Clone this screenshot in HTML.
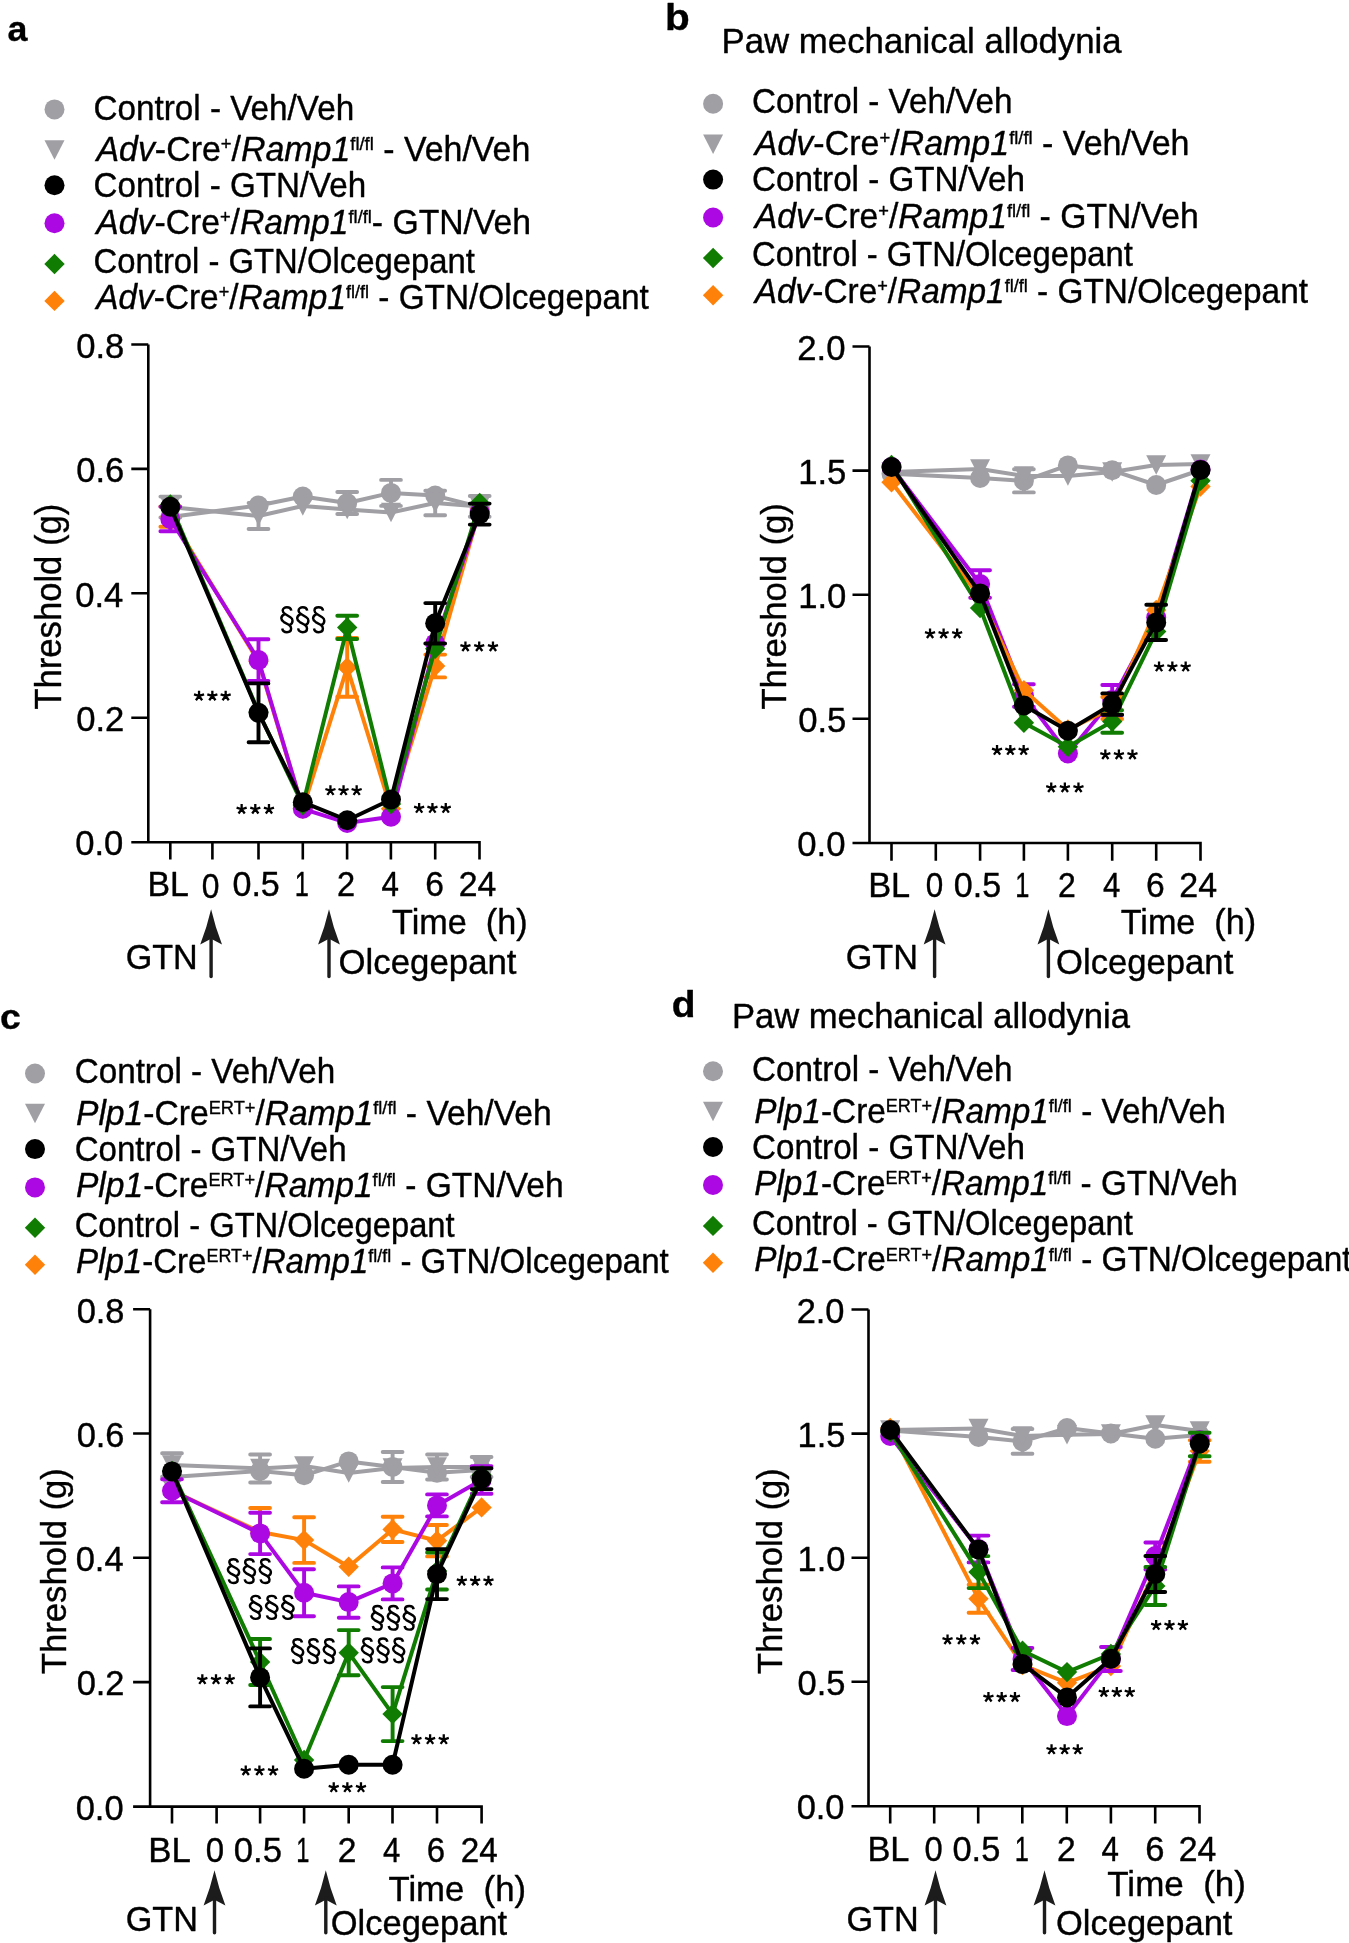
<!DOCTYPE html>
<html><head><meta charset="utf-8"><title>Figure</title><style>html,body{margin:0;padding:0;background:#fff;overflow:hidden}</style></head>
<body>
<svg width="1349" height="1943" viewBox="0 0 1349 1943" font-family='"Liberation Sans", sans-serif' style="display:block;will-change:transform">
<rect width="1349" height="1943" fill="#fff"/>
<path d="M148.30,344.50V842.20M131.30,344.50H148.30M131.30,468.90H148.30M131.30,593.30H148.30M131.30,717.70H148.30M131.30,842.20H480.80M170.30,842.20V859.50M212.40,842.20V859.50M258.50,842.20V859.50M302.80,842.20V859.50M347.10,842.20V859.50M390.90,842.20V859.50M435.20,842.20V859.50M479.50,842.20V859.50" stroke="#000" stroke-width="2.6" fill="none" stroke-linecap="butt"/>
<path d="M211.10,909.30Q215.15,926.90 222.00,944.50L211.10,938.70L200.20,944.50Q207.05,926.90 211.10,909.30Z" fill="#1c1c1c"/>
<path d="M211.10,936.70V976.50" stroke="#1c1c1c" stroke-width="3.4" stroke-linecap="round"/>
<path d="M329.00,909.30Q333.05,926.90 339.90,944.50L329.00,938.70L318.10,944.50Q324.95,926.90 329.00,909.30Z" fill="#1c1c1c"/>
<path d="M329.00,936.70V976.50" stroke="#1c1c1c" stroke-width="3.4" stroke-linecap="round"/>
<path d="M347.20,503.00V492.00M337.30,492.00H357.10M347.20,503.00V514.00M337.30,514.00H357.10" stroke="#A09FA4" stroke-width="3.9" fill="none" stroke-linecap="round"/>
<path d="M391.00,492.90V479.90M381.10,479.90H400.90M391.00,492.90V505.90M381.10,505.90H400.90" stroke="#A09FA4" stroke-width="3.9" fill="none" stroke-linecap="round"/>
<polyline points="170.30,517.00 258.50,505.50 302.80,496.50 347.20,503.00 391.00,492.90 435.20,495.60 479.70,507.00" stroke="#A09FA4" stroke-width="4.0" fill="none" stroke-linejoin="round" stroke-linecap="round"/>
<circle cx="170.30" cy="517.00" r="10.0" fill="#A09FA4"/>
<circle cx="258.50" cy="505.50" r="10.0" fill="#A09FA4"/>
<circle cx="302.80" cy="496.50" r="10.0" fill="#A09FA4"/>
<circle cx="347.20" cy="503.00" r="10.0" fill="#A09FA4"/>
<circle cx="391.00" cy="492.90" r="10.0" fill="#A09FA4"/>
<circle cx="435.20" cy="495.60" r="10.0" fill="#A09FA4"/>
<circle cx="479.70" cy="507.00" r="10.0" fill="#A09FA4"/>
<path d="M170.30,507.00V496.60M160.40,496.60H180.20M170.30,507.00V517.40M160.40,517.40H180.20" stroke="#A09FA4" stroke-width="3.9" fill="none" stroke-linecap="round"/>
<path d="M258.50,516.00V503.00M248.60,503.00H268.40M258.50,516.00V529.00M248.60,529.00H268.40" stroke="#A09FA4" stroke-width="3.9" fill="none" stroke-linecap="round"/>
<path d="M435.20,503.00V490.80M425.30,490.80H445.10M435.20,503.00V515.20M425.30,515.20H445.10" stroke="#A09FA4" stroke-width="3.9" fill="none" stroke-linecap="round"/>
<path d="M479.70,506.40V496.00M469.80,496.00H489.60M479.70,506.40V516.80M469.80,516.80H489.60" stroke="#A09FA4" stroke-width="3.9" fill="none" stroke-linecap="round"/>
<polyline points="170.30,507.00 258.50,516.00 302.80,506.00 347.20,509.50 391.00,512.50 435.20,503.00 479.70,506.40" stroke="#A09FA4" stroke-width="4.0" fill="none" stroke-linejoin="round" stroke-linecap="round"/>
<polygon points="160.30,497.25 180.30,497.25 170.30,516.75" fill="#A09FA4"/>
<polygon points="248.50,506.25 268.50,506.25 258.50,525.75" fill="#A09FA4"/>
<polygon points="292.80,496.25 312.80,496.25 302.80,515.75" fill="#A09FA4"/>
<polygon points="337.20,499.75 357.20,499.75 347.20,519.25" fill="#A09FA4"/>
<polygon points="381.00,502.75 401.00,502.75 391.00,522.25" fill="#A09FA4"/>
<polygon points="425.20,493.25 445.20,493.25 435.20,512.75" fill="#A09FA4"/>
<polygon points="469.70,496.65 489.70,496.65 479.70,516.15" fill="#A09FA4"/>
<path d="M170.30,516.60V506.40M160.40,506.40H180.20M170.30,516.60V526.80M160.40,526.80H180.20" stroke="#FE820A" stroke-width="3.9" fill="none" stroke-linecap="round"/>
<path d="M347.20,667.40V638.00M337.30,638.00H357.10M347.20,667.40V696.80M337.30,696.80H357.10" stroke="#FE820A" stroke-width="3.9" fill="none" stroke-linecap="round"/>
<path d="M435.20,666.00V654.60M425.30,654.60H445.10M435.20,666.00V677.40M425.30,677.40H445.10" stroke="#FE820A" stroke-width="3.9" fill="none" stroke-linecap="round"/>
<polyline points="170.30,516.60 258.50,661.50 302.80,808.80 347.20,667.40 391.00,808.80 435.20,666.00 479.70,509.00" stroke="#FE820A" stroke-width="4.0" fill="none" stroke-linejoin="round" stroke-linecap="round"/>
<polygon points="170.30,506.40 180.50,516.60 170.30,526.80 160.10,516.60" fill="#FE820A"/>
<polygon points="258.50,651.30 268.70,661.50 258.50,671.70 248.30,661.50" fill="#FE820A"/>
<polygon points="302.80,798.60 313.00,808.80 302.80,819.00 292.60,808.80" fill="#FE820A"/>
<polygon points="347.20,657.20 357.40,667.40 347.20,677.60 337.00,667.40" fill="#FE820A"/>
<polygon points="391.00,798.60 401.20,808.80 391.00,819.00 380.80,808.80" fill="#FE820A"/>
<polygon points="435.20,655.80 445.40,666.00 435.20,676.20 425.00,666.00" fill="#FE820A"/>
<polygon points="479.70,498.80 489.90,509.00 479.70,519.20 469.50,509.00" fill="#FE820A"/>
<path d="M170.30,519.00V506.70M160.40,506.70H180.20M170.30,519.00V531.30M160.40,531.30H180.20" stroke="#AC08E3" stroke-width="3.9" fill="none" stroke-linecap="round"/>
<path d="M258.50,660.10V639.20M248.60,639.20H268.40M258.50,660.10V681.00M248.60,681.00H268.40" stroke="#AC08E3" stroke-width="3.9" fill="none" stroke-linecap="round"/>
<polyline points="170.30,519.00 258.50,660.10 302.80,808.80 347.20,822.90 391.00,816.80 435.20,643.40 479.70,512.00" stroke="#AC08E3" stroke-width="4.0" fill="none" stroke-linejoin="round" stroke-linecap="round"/>
<circle cx="170.30" cy="519.00" r="10.0" fill="#AC08E3"/>
<circle cx="258.50" cy="660.10" r="10.0" fill="#AC08E3"/>
<circle cx="302.80" cy="808.80" r="10.0" fill="#AC08E3"/>
<circle cx="347.20" cy="822.90" r="10.0" fill="#AC08E3"/>
<circle cx="391.00" cy="816.80" r="10.0" fill="#AC08E3"/>
<circle cx="435.20" cy="643.40" r="10.0" fill="#AC08E3"/>
<circle cx="479.70" cy="512.00" r="10.0" fill="#AC08E3"/>
<path d="M347.20,627.40V615.80M337.30,615.80H357.10M347.20,627.40V639.00M337.30,639.00H357.10" stroke="#107C02" stroke-width="3.9" fill="none" stroke-linecap="round"/>
<polyline points="170.30,504.50 258.50,712.00 302.80,805.00 347.20,627.40 391.00,804.00 435.20,648.70 479.70,503.00" stroke="#107C02" stroke-width="4.0" fill="none" stroke-linejoin="round" stroke-linecap="round"/>
<polygon points="170.30,494.30 180.50,504.50 170.30,514.70 160.10,504.50" fill="#107C02"/>
<polygon points="258.50,701.80 268.70,712.00 258.50,722.20 248.30,712.00" fill="#107C02"/>
<polygon points="302.80,794.80 313.00,805.00 302.80,815.20 292.60,805.00" fill="#107C02"/>
<polygon points="347.20,617.20 357.40,627.40 347.20,637.60 337.00,627.40" fill="#107C02"/>
<polygon points="391.00,793.80 401.20,804.00 391.00,814.20 380.80,804.00" fill="#107C02"/>
<polygon points="435.20,638.50 445.40,648.70 435.20,658.90 425.00,648.70" fill="#107C02"/>
<polygon points="479.70,492.80 489.90,503.00 479.70,513.20 469.50,503.00" fill="#107C02"/>
<path d="M258.50,712.80V683.40M248.60,683.40H268.40M258.50,712.80V742.20M248.60,742.20H268.40" stroke="#000000" stroke-width="3.9" fill="none" stroke-linecap="round"/>
<path d="M435.20,623.30V603.10M425.30,603.10H445.10M435.20,623.30V643.50M425.30,643.50H445.10" stroke="#000000" stroke-width="3.9" fill="none" stroke-linecap="round"/>
<path d="M479.70,514.10V503.60M469.80,503.60H489.60M479.70,514.10V524.60M469.80,524.60H489.60" stroke="#000000" stroke-width="3.9" fill="none" stroke-linecap="round"/>
<polyline points="170.30,506.80 258.50,712.80 302.80,802.20 347.20,820.20 391.00,799.50 435.20,623.30 479.70,514.10" stroke="#000000" stroke-width="4.0" fill="none" stroke-linejoin="round" stroke-linecap="round"/>
<circle cx="170.30" cy="506.80" r="10.0" fill="#000000"/>
<circle cx="258.50" cy="712.80" r="10.0" fill="#000000"/>
<circle cx="302.80" cy="802.20" r="10.0" fill="#000000"/>
<circle cx="347.20" cy="820.20" r="10.0" fill="#000000"/>
<circle cx="391.00" cy="799.50" r="10.0" fill="#000000"/>
<circle cx="435.20" cy="623.30" r="10.0" fill="#000000"/>
<circle cx="479.70" cy="514.10" r="10.0" fill="#000000"/>
<path d="M869.50,346.50V843.00M852.50,346.50H869.50M852.50,470.60H869.50M852.50,594.70H869.50M852.50,718.80H869.50M852.50,843.00H1201.80M891.50,843.00V860.70M935.80,843.00V860.70M980.10,843.00V860.70M1023.90,843.00V860.70M1067.90,843.00V860.70M1112.20,843.00V860.70M1156.20,843.00V860.70M1200.50,843.00V860.70" stroke="#000" stroke-width="2.6" fill="none" stroke-linecap="butt"/>
<path d="M934.60,909.30Q938.65,926.90 945.50,944.50L934.60,938.70L923.70,944.50Q930.55,926.90 934.60,909.30Z" fill="#1c1c1c"/>
<path d="M934.60,936.70V976.50" stroke="#1c1c1c" stroke-width="3.4" stroke-linecap="round"/>
<path d="M1048.40,909.30Q1052.45,926.90 1059.30,944.50L1048.40,938.70L1037.50,944.50Q1044.35,926.90 1048.40,909.30Z" fill="#1c1c1c"/>
<path d="M1048.40,936.70V976.50" stroke="#1c1c1c" stroke-width="3.4" stroke-linecap="round"/>
<path d="M1023.90,480.80V469.20M1014.00,469.20H1033.80M1023.90,480.80V492.40M1014.00,492.40H1033.80" stroke="#A09FA4" stroke-width="3.9" fill="none" stroke-linecap="round"/>
<polyline points="891.50,473.80 980.10,478.00 1023.90,480.80 1067.90,465.40 1112.20,470.30 1156.20,485.00 1200.50,470.00" stroke="#A09FA4" stroke-width="4.0" fill="none" stroke-linejoin="round" stroke-linecap="round"/>
<circle cx="891.50" cy="473.80" r="10.0" fill="#A09FA4"/>
<circle cx="980.10" cy="478.00" r="10.0" fill="#A09FA4"/>
<circle cx="1023.90" cy="480.80" r="10.0" fill="#A09FA4"/>
<circle cx="1067.90" cy="465.40" r="10.0" fill="#A09FA4"/>
<circle cx="1112.20" cy="470.30" r="10.0" fill="#A09FA4"/>
<circle cx="1156.20" cy="485.00" r="10.0" fill="#A09FA4"/>
<circle cx="1200.50" cy="470.00" r="10.0" fill="#A09FA4"/>
<polyline points="891.50,472.00 980.10,469.00 1023.90,476.00 1067.90,476.00 1112.20,472.00 1156.20,465.00 1200.50,464.00" stroke="#A09FA4" stroke-width="4.0" fill="none" stroke-linejoin="round" stroke-linecap="round"/>
<polygon points="881.50,462.25 901.50,462.25 891.50,481.75" fill="#A09FA4"/>
<polygon points="970.10,459.25 990.10,459.25 980.10,478.75" fill="#A09FA4"/>
<polygon points="1013.90,466.25 1033.90,466.25 1023.90,485.75" fill="#A09FA4"/>
<polygon points="1057.90,466.25 1077.90,466.25 1067.90,485.75" fill="#A09FA4"/>
<polygon points="1102.20,462.25 1122.20,462.25 1112.20,481.75" fill="#A09FA4"/>
<polygon points="1146.20,455.25 1166.20,455.25 1156.20,474.75" fill="#A09FA4"/>
<polygon points="1190.50,454.25 1210.50,454.25 1200.50,473.75" fill="#A09FA4"/>
<path d="M980.10,584.00V570.30M970.20,570.30H990.00M980.10,584.00V597.70M970.20,597.70H990.00" stroke="#AC08E3" stroke-width="3.9" fill="none" stroke-linecap="round"/>
<path d="M1023.90,695.50V684.30M1014.00,684.30H1033.80M1023.90,695.50V706.70M1014.00,706.70H1033.80" stroke="#AC08E3" stroke-width="3.9" fill="none" stroke-linecap="round"/>
<path d="M1112.20,700.00V685.00M1102.30,685.00H1122.10M1112.20,700.00V715.00M1102.30,715.00H1122.10" stroke="#AC08E3" stroke-width="3.9" fill="none" stroke-linecap="round"/>
<polyline points="891.50,467.00 980.10,584.00 1023.90,695.50 1067.90,753.50 1112.20,700.00 1156.20,617.50 1200.50,469.50" stroke="#AC08E3" stroke-width="4.0" fill="none" stroke-linejoin="round" stroke-linecap="round"/>
<circle cx="891.50" cy="467.00" r="10.0" fill="#AC08E3"/>
<circle cx="980.10" cy="584.00" r="10.0" fill="#AC08E3"/>
<circle cx="1023.90" cy="695.50" r="10.0" fill="#AC08E3"/>
<circle cx="1067.90" cy="753.50" r="10.0" fill="#AC08E3"/>
<circle cx="1112.20" cy="700.00" r="10.0" fill="#AC08E3"/>
<circle cx="1156.20" cy="617.50" r="10.0" fill="#AC08E3"/>
<circle cx="1200.50" cy="469.50" r="10.0" fill="#AC08E3"/>
<path d="M1112.20,708.00V697.00M1102.30,697.00H1122.10M1112.20,708.00V719.00M1102.30,719.00H1122.10" stroke="#FE820A" stroke-width="3.9" fill="none" stroke-linecap="round"/>
<polyline points="891.50,482.30 980.10,597.00 1023.90,690.20 1067.90,729.50 1112.20,708.00 1156.20,610.00 1200.50,486.50" stroke="#FE820A" stroke-width="4.0" fill="none" stroke-linejoin="round" stroke-linecap="round"/>
<polygon points="891.50,472.10 901.70,482.30 891.50,492.50 881.30,482.30" fill="#FE820A"/>
<polygon points="980.10,586.80 990.30,597.00 980.10,607.20 969.90,597.00" fill="#FE820A"/>
<polygon points="1023.90,680.00 1034.10,690.20 1023.90,700.40 1013.70,690.20" fill="#FE820A"/>
<polygon points="1067.90,719.30 1078.10,729.50 1067.90,739.70 1057.70,729.50" fill="#FE820A"/>
<polygon points="1112.20,697.80 1122.40,708.00 1112.20,718.20 1102.00,708.00" fill="#FE820A"/>
<polygon points="1156.20,599.80 1166.40,610.00 1156.20,620.20 1146.00,610.00" fill="#FE820A"/>
<polygon points="1200.50,476.30 1210.70,486.50 1200.50,496.70 1190.30,486.50" fill="#FE820A"/>
<path d="M1112.20,721.50V710.20M1102.30,710.20H1122.10M1112.20,721.50V732.80M1102.30,732.80H1122.10" stroke="#107C02" stroke-width="3.9" fill="none" stroke-linecap="round"/>
<polyline points="891.50,465.00 980.10,608.00 1023.90,722.80 1067.90,746.80 1112.20,721.50 1156.20,631.50 1200.50,480.80" stroke="#107C02" stroke-width="4.0" fill="none" stroke-linejoin="round" stroke-linecap="round"/>
<polygon points="891.50,454.80 901.70,465.00 891.50,475.20 881.30,465.00" fill="#107C02"/>
<polygon points="980.10,597.80 990.30,608.00 980.10,618.20 969.90,608.00" fill="#107C02"/>
<polygon points="1023.90,712.60 1034.10,722.80 1023.90,733.00 1013.70,722.80" fill="#107C02"/>
<polygon points="1067.90,736.60 1078.10,746.80 1067.90,757.00 1057.70,746.80" fill="#107C02"/>
<polygon points="1112.20,711.30 1122.40,721.50 1112.20,731.70 1102.00,721.50" fill="#107C02"/>
<polygon points="1156.20,621.30 1166.40,631.50 1156.20,641.70 1146.00,631.50" fill="#107C02"/>
<polygon points="1200.50,470.60 1210.70,480.80 1200.50,491.00 1190.30,480.80" fill="#107C02"/>
<path d="M1112.20,704.10V693.40M1102.30,693.40H1122.10M1112.20,704.10V714.80M1102.30,714.80H1122.10" stroke="#000000" stroke-width="3.9" fill="none" stroke-linecap="round"/>
<path d="M1156.20,622.40V604.80M1146.30,604.80H1166.10M1156.20,622.40V640.00M1146.30,640.00H1166.10" stroke="#000000" stroke-width="3.9" fill="none" stroke-linecap="round"/>
<polyline points="891.50,467.00 980.10,593.40 1023.90,705.50 1067.90,730.80 1112.20,704.10 1156.20,622.40 1200.50,469.90" stroke="#000000" stroke-width="4.0" fill="none" stroke-linejoin="round" stroke-linecap="round"/>
<circle cx="891.50" cy="467.00" r="10.0" fill="#000000"/>
<circle cx="980.10" cy="593.40" r="10.0" fill="#000000"/>
<circle cx="1023.90" cy="705.50" r="10.0" fill="#000000"/>
<circle cx="1067.90" cy="730.80" r="10.0" fill="#000000"/>
<circle cx="1112.20" cy="704.10" r="10.0" fill="#000000"/>
<circle cx="1156.20" cy="622.40" r="10.0" fill="#000000"/>
<circle cx="1200.50" cy="469.90" r="10.0" fill="#000000"/>
<path d="M150.10,1309.20V1806.60M133.10,1309.20H150.10M133.10,1433.50H150.10M133.10,1557.80H150.10M133.10,1682.10H150.10M133.10,1806.60H482.90M172.00,1806.60V1823.40M216.60,1806.60V1823.40M260.10,1806.60V1823.40M304.10,1806.60V1823.40M348.70,1806.60V1823.40M392.50,1806.60V1823.40M437.00,1806.60V1823.40M481.60,1806.60V1823.40" stroke="#000" stroke-width="2.6" fill="none" stroke-linecap="butt"/>
<path d="M214.50,1870.30Q218.55,1887.90 225.40,1905.50L214.50,1899.70L203.60,1905.50Q210.45,1887.90 214.50,1870.30Z" fill="#1c1c1c"/>
<path d="M214.50,1897.70V1932.70" stroke="#1c1c1c" stroke-width="3.4" stroke-linecap="round"/>
<path d="M325.80,1870.30Q329.85,1887.90 336.70,1905.50L325.80,1899.70L314.90,1905.50Q321.75,1887.90 325.80,1870.30Z" fill="#1c1c1c"/>
<path d="M325.80,1897.70V1932.70" stroke="#1c1c1c" stroke-width="3.4" stroke-linecap="round"/>
<path d="M392.60,1467.00V1452.00M382.70,1452.00H402.50M392.60,1467.00V1482.00M382.70,1482.00H402.50" stroke="#A09FA4" stroke-width="3.9" fill="none" stroke-linecap="round"/>
<polyline points="172.00,1477.00 260.10,1471.00 304.10,1475.30 348.70,1461.40 392.60,1467.00 437.00,1472.80 481.60,1470.00" stroke="#A09FA4" stroke-width="4.0" fill="none" stroke-linejoin="round" stroke-linecap="round"/>
<circle cx="172.00" cy="1477.00" r="10.0" fill="#A09FA4"/>
<circle cx="260.10" cy="1471.00" r="10.0" fill="#A09FA4"/>
<circle cx="304.10" cy="1475.30" r="10.0" fill="#A09FA4"/>
<circle cx="348.70" cy="1461.40" r="10.0" fill="#A09FA4"/>
<circle cx="392.60" cy="1467.00" r="10.0" fill="#A09FA4"/>
<circle cx="437.00" cy="1472.80" r="10.0" fill="#A09FA4"/>
<circle cx="481.60" cy="1470.00" r="10.0" fill="#A09FA4"/>
<path d="M172.00,1465.00V1453.20M162.10,1453.20H181.90M172.00,1465.00V1476.80M162.10,1476.80H181.90" stroke="#A09FA4" stroke-width="3.9" fill="none" stroke-linecap="round"/>
<path d="M260.10,1468.50V1454.50M250.20,1454.50H270.00M260.10,1468.50V1482.50M250.20,1482.50H270.00" stroke="#A09FA4" stroke-width="3.9" fill="none" stroke-linecap="round"/>
<path d="M437.00,1467.00V1454.50M427.10,1454.50H446.90M437.00,1467.00V1479.50M427.10,1479.50H446.90" stroke="#A09FA4" stroke-width="3.9" fill="none" stroke-linecap="round"/>
<path d="M481.60,1467.00V1457.00M471.70,1457.00H491.50M481.60,1467.00V1477.00M471.70,1477.00H491.50" stroke="#A09FA4" stroke-width="3.9" fill="none" stroke-linecap="round"/>
<polyline points="172.00,1465.00 260.10,1468.50 304.10,1466.00 348.70,1473.00 392.60,1468.00 437.00,1467.00 481.60,1467.00" stroke="#A09FA4" stroke-width="4.0" fill="none" stroke-linejoin="round" stroke-linecap="round"/>
<polygon points="162.00,1455.25 182.00,1455.25 172.00,1474.75" fill="#A09FA4"/>
<polygon points="250.10,1458.75 270.10,1458.75 260.10,1478.25" fill="#A09FA4"/>
<polygon points="294.10,1456.25 314.10,1456.25 304.10,1475.75" fill="#A09FA4"/>
<polygon points="338.70,1463.25 358.70,1463.25 348.70,1482.75" fill="#A09FA4"/>
<polygon points="382.60,1458.25 402.60,1458.25 392.60,1477.75" fill="#A09FA4"/>
<polygon points="427.00,1457.25 447.00,1457.25 437.00,1476.75" fill="#A09FA4"/>
<polygon points="471.60,1457.25 491.60,1457.25 481.60,1476.75" fill="#A09FA4"/>
<path d="M260.10,1532.00V1508.00M250.20,1508.00H270.00" stroke="#FE820A" stroke-width="3.9" fill="none" stroke-linecap="round"/>
<path d="M304.10,1540.10V1517.30M294.20,1517.30H314.00M304.10,1540.10V1562.90M294.20,1562.90H314.00" stroke="#FE820A" stroke-width="3.9" fill="none" stroke-linecap="round"/>
<path d="M392.60,1529.40V1516.80M382.70,1516.80H402.50M392.60,1529.40V1542.00M382.70,1542.00H402.50" stroke="#FE820A" stroke-width="3.9" fill="none" stroke-linecap="round"/>
<path d="M437.00,1540.70V1525.00M427.10,1525.00H446.90M437.00,1540.70V1556.40M427.10,1556.40H446.90" stroke="#FE820A" stroke-width="3.9" fill="none" stroke-linecap="round"/>
<polyline points="172.00,1490.70 260.10,1532.00 304.10,1540.10 348.70,1566.80 392.60,1529.40 437.00,1540.70 481.60,1507.40" stroke="#FE820A" stroke-width="4.0" fill="none" stroke-linejoin="round" stroke-linecap="round"/>
<polygon points="172.00,1480.50 182.20,1490.70 172.00,1500.90 161.80,1490.70" fill="#FE820A"/>
<polygon points="260.10,1521.80 270.30,1532.00 260.10,1542.20 249.90,1532.00" fill="#FE820A"/>
<polygon points="304.10,1529.90 314.30,1540.10 304.10,1550.30 293.90,1540.10" fill="#FE820A"/>
<polygon points="348.70,1556.60 358.90,1566.80 348.70,1577.00 338.50,1566.80" fill="#FE820A"/>
<polygon points="392.60,1519.20 402.80,1529.40 392.60,1539.60 382.40,1529.40" fill="#FE820A"/>
<polygon points="437.00,1530.50 447.20,1540.70 437.00,1550.90 426.80,1540.70" fill="#FE820A"/>
<polygon points="481.60,1497.20 491.80,1507.40 481.60,1517.60 471.40,1507.40" fill="#FE820A"/>
<path d="M172.00,1490.70V1479.20M162.10,1479.20H181.90M172.00,1490.70V1502.20M162.10,1502.20H181.90" stroke="#AC08E3" stroke-width="3.9" fill="none" stroke-linecap="round"/>
<path d="M260.10,1533.40V1512.70M250.20,1512.70H270.00M260.10,1533.40V1554.10M250.20,1554.10H270.00" stroke="#AC08E3" stroke-width="3.9" fill="none" stroke-linecap="round"/>
<path d="M304.10,1592.80V1569.30M294.20,1569.30H314.00M304.10,1592.80V1616.30M294.20,1616.30H314.00" stroke="#AC08E3" stroke-width="3.9" fill="none" stroke-linecap="round"/>
<path d="M348.70,1602.10V1586.40M338.80,1586.40H358.60M348.70,1602.10V1617.80M338.80,1617.80H358.60" stroke="#AC08E3" stroke-width="3.9" fill="none" stroke-linecap="round"/>
<path d="M392.60,1583.40V1567.40M382.70,1567.40H402.50M392.60,1583.40V1599.40M382.70,1599.40H402.50" stroke="#AC08E3" stroke-width="3.9" fill="none" stroke-linecap="round"/>
<path d="M437.00,1505.40V1494.40M427.10,1494.40H446.90M437.00,1505.40V1516.40M427.10,1516.40H446.90" stroke="#AC08E3" stroke-width="3.9" fill="none" stroke-linecap="round"/>
<path d="M481.60,1480.00V1466.30M471.70,1466.30H491.50M481.60,1480.00V1493.70M471.70,1493.70H491.50" stroke="#AC08E3" stroke-width="3.9" fill="none" stroke-linecap="round"/>
<polyline points="172.00,1490.70 260.10,1533.40 304.10,1592.80 348.70,1602.10 392.60,1583.40 437.00,1505.40 481.60,1480.00" stroke="#AC08E3" stroke-width="4.0" fill="none" stroke-linejoin="round" stroke-linecap="round"/>
<circle cx="172.00" cy="1490.70" r="10.0" fill="#AC08E3"/>
<circle cx="260.10" cy="1533.40" r="10.0" fill="#AC08E3"/>
<circle cx="304.10" cy="1592.80" r="10.0" fill="#AC08E3"/>
<circle cx="348.70" cy="1602.10" r="10.0" fill="#AC08E3"/>
<circle cx="392.60" cy="1583.40" r="10.0" fill="#AC08E3"/>
<circle cx="437.00" cy="1505.40" r="10.0" fill="#AC08E3"/>
<circle cx="481.60" cy="1480.00" r="10.0" fill="#AC08E3"/>
<path d="M260.10,1662.00V1639.00M250.20,1639.00H270.00M260.10,1662.00V1685.00M250.20,1685.00H270.00" stroke="#107C02" stroke-width="3.9" fill="none" stroke-linecap="round"/>
<path d="M348.70,1652.70V1630.10M338.80,1630.10H358.60M348.70,1652.70V1675.30M338.80,1675.30H358.60" stroke="#107C02" stroke-width="3.9" fill="none" stroke-linecap="round"/>
<path d="M392.60,1714.10V1687.10M382.70,1687.10H402.50M392.60,1714.10V1741.10M382.70,1741.10H402.50" stroke="#107C02" stroke-width="3.9" fill="none" stroke-linecap="round"/>
<path d="M437.00,1571.00V1552.50M427.10,1552.50H446.90M437.00,1571.00V1589.50M427.10,1589.50H446.90" stroke="#107C02" stroke-width="3.9" fill="none" stroke-linecap="round"/>
<polyline points="172.00,1471.00 260.10,1662.00 304.10,1760.00 348.70,1652.70 392.60,1714.10 437.00,1571.00 481.60,1475.00" stroke="#107C02" stroke-width="4.0" fill="none" stroke-linejoin="round" stroke-linecap="round"/>
<polygon points="172.00,1460.80 182.20,1471.00 172.00,1481.20 161.80,1471.00" fill="#107C02"/>
<polygon points="260.10,1651.80 270.30,1662.00 260.10,1672.20 249.90,1662.00" fill="#107C02"/>
<polygon points="304.10,1749.80 314.30,1760.00 304.10,1770.20 293.90,1760.00" fill="#107C02"/>
<polygon points="348.70,1642.50 358.90,1652.70 348.70,1662.90 338.50,1652.70" fill="#107C02"/>
<polygon points="392.60,1703.90 402.80,1714.10 392.60,1724.30 382.40,1714.10" fill="#107C02"/>
<polygon points="437.00,1560.80 447.20,1571.00 437.00,1581.20 426.80,1571.00" fill="#107C02"/>
<polygon points="481.60,1464.80 491.80,1475.00 481.60,1485.20 471.40,1475.00" fill="#107C02"/>
<path d="M260.10,1677.40V1648.40M250.20,1648.40H270.00M260.10,1677.40V1706.40M250.20,1706.40H270.00" stroke="#000000" stroke-width="3.9" fill="none" stroke-linecap="round"/>
<path d="M437.00,1574.10V1549.10M427.10,1549.10H446.90M437.00,1574.10V1599.10M427.10,1599.10H446.90" stroke="#000000" stroke-width="3.9" fill="none" stroke-linecap="round"/>
<path d="M481.60,1478.70V1468.30M471.70,1468.30H491.50M481.60,1478.70V1489.10M471.70,1489.10H491.50" stroke="#000000" stroke-width="3.9" fill="none" stroke-linecap="round"/>
<polyline points="172.00,1471.40 260.10,1677.40 304.10,1768.80 348.70,1764.80 392.60,1764.80 437.00,1574.10 481.60,1478.70" stroke="#000000" stroke-width="4.0" fill="none" stroke-linejoin="round" stroke-linecap="round"/>
<circle cx="172.00" cy="1471.40" r="10.0" fill="#000000"/>
<circle cx="260.10" cy="1677.40" r="10.0" fill="#000000"/>
<circle cx="304.10" cy="1768.80" r="10.0" fill="#000000"/>
<circle cx="348.70" cy="1764.80" r="10.0" fill="#000000"/>
<circle cx="392.60" cy="1764.80" r="10.0" fill="#000000"/>
<circle cx="437.00" cy="1574.10" r="10.0" fill="#000000"/>
<circle cx="481.60" cy="1478.70" r="10.0" fill="#000000"/>
<path d="M868.50,1309.50V1806.30M851.50,1309.50H868.50M851.50,1433.60H868.50M851.50,1557.70H868.50M851.50,1681.80H868.50M851.50,1806.30H1200.80M890.20,1806.30V1823.40M934.20,1806.30V1823.40M978.20,1806.30V1823.40M1022.30,1806.30V1823.40M1066.80,1806.30V1823.40M1110.90,1806.30V1823.40M1155.20,1806.30V1823.40M1199.50,1806.30V1823.40" stroke="#000" stroke-width="2.6" fill="none" stroke-linecap="butt"/>
<path d="M935.50,1870.30Q939.55,1887.90 946.40,1905.50L935.50,1899.70L924.60,1905.50Q931.45,1887.90 935.50,1870.30Z" fill="#1c1c1c"/>
<path d="M935.50,1897.70V1932.70" stroke="#1c1c1c" stroke-width="3.4" stroke-linecap="round"/>
<path d="M1044.50,1870.30Q1048.55,1887.90 1055.40,1905.50L1044.50,1899.70L1033.60,1905.50Q1040.45,1887.90 1044.50,1870.30Z" fill="#1c1c1c"/>
<path d="M1044.50,1897.70V1932.70" stroke="#1c1c1c" stroke-width="3.4" stroke-linecap="round"/>
<path d="M1022.50,1441.40V1429.00M1012.60,1429.00H1032.40M1022.50,1441.40V1453.80M1012.60,1453.80H1032.40" stroke="#A09FA4" stroke-width="3.9" fill="none" stroke-linecap="round"/>
<polyline points="890.20,1430.50 978.50,1437.00 1022.50,1441.40 1067.00,1428.10 1110.90,1433.50 1155.30,1438.80 1199.70,1435.00" stroke="#A09FA4" stroke-width="4.0" fill="none" stroke-linejoin="round" stroke-linecap="round"/>
<circle cx="890.20" cy="1430.50" r="10.0" fill="#A09FA4"/>
<circle cx="978.50" cy="1437.00" r="10.0" fill="#A09FA4"/>
<circle cx="1022.50" cy="1441.40" r="10.0" fill="#A09FA4"/>
<circle cx="1067.00" cy="1428.10" r="10.0" fill="#A09FA4"/>
<circle cx="1110.90" cy="1433.50" r="10.0" fill="#A09FA4"/>
<circle cx="1155.30" cy="1438.80" r="10.0" fill="#A09FA4"/>
<circle cx="1199.70" cy="1435.00" r="10.0" fill="#A09FA4"/>
<polyline points="890.20,1430.00 978.50,1428.50 1022.50,1436.00 1067.00,1434.80 1110.90,1434.00 1155.30,1425.00 1199.70,1431.00" stroke="#A09FA4" stroke-width="4.0" fill="none" stroke-linejoin="round" stroke-linecap="round"/>
<polygon points="880.20,1420.25 900.20,1420.25 890.20,1439.75" fill="#A09FA4"/>
<polygon points="968.50,1418.75 988.50,1418.75 978.50,1438.25" fill="#A09FA4"/>
<polygon points="1012.50,1426.25 1032.50,1426.25 1022.50,1445.75" fill="#A09FA4"/>
<polygon points="1057.00,1425.05 1077.00,1425.05 1067.00,1444.55" fill="#A09FA4"/>
<polygon points="1100.90,1424.25 1120.90,1424.25 1110.90,1443.75" fill="#A09FA4"/>
<polygon points="1145.30,1415.25 1165.30,1415.25 1155.30,1434.75" fill="#A09FA4"/>
<polygon points="1189.70,1421.25 1209.70,1421.25 1199.70,1440.75" fill="#A09FA4"/>
<path d="M978.50,1598.80V1584.80M968.60,1584.80H988.40M978.50,1598.80V1612.80M968.60,1612.80H988.40" stroke="#FE820A" stroke-width="3.9" fill="none" stroke-linecap="round"/>
<path d="M1199.70,1451.00V1440.20M1189.80,1440.20H1209.60M1199.70,1451.00V1461.80M1189.80,1461.80H1209.60" stroke="#FE820A" stroke-width="3.9" fill="none" stroke-linecap="round"/>
<polyline points="890.20,1428.00 978.50,1598.80 1022.50,1665.00 1067.00,1682.80 1110.90,1666.00 1155.30,1570.00 1199.70,1451.00" stroke="#FE820A" stroke-width="4.0" fill="none" stroke-linejoin="round" stroke-linecap="round"/>
<polygon points="890.20,1417.80 900.40,1428.00 890.20,1438.20 880.00,1428.00" fill="#FE820A"/>
<polygon points="978.50,1588.60 988.70,1598.80 978.50,1609.00 968.30,1598.80" fill="#FE820A"/>
<polygon points="1022.50,1654.80 1032.70,1665.00 1022.50,1675.20 1012.30,1665.00" fill="#FE820A"/>
<polygon points="1067.00,1672.60 1077.20,1682.80 1067.00,1693.00 1056.80,1682.80" fill="#FE820A"/>
<polygon points="1110.90,1655.80 1121.10,1666.00 1110.90,1676.20 1100.70,1666.00" fill="#FE820A"/>
<polygon points="1155.30,1559.80 1165.50,1570.00 1155.30,1580.20 1145.10,1570.00" fill="#FE820A"/>
<polygon points="1199.70,1440.80 1209.90,1451.00 1199.70,1461.20 1189.50,1451.00" fill="#FE820A"/>
<path d="M978.50,1549.00V1535.60M968.60,1535.60H988.40M978.50,1549.00V1562.40M968.60,1562.40H988.40" stroke="#AC08E3" stroke-width="3.9" fill="none" stroke-linecap="round"/>
<path d="M1022.50,1659.00V1648.00M1012.60,1648.00H1032.40M1022.50,1659.00V1670.00M1012.60,1670.00H1032.40" stroke="#AC08E3" stroke-width="3.9" fill="none" stroke-linecap="round"/>
<path d="M1110.90,1659.00V1647.00M1101.00,1647.00H1120.80M1110.90,1659.00V1671.00M1101.00,1671.00H1120.80" stroke="#AC08E3" stroke-width="3.9" fill="none" stroke-linecap="round"/>
<path d="M1155.30,1556.00V1542.50M1145.40,1542.50H1165.20M1155.30,1556.00V1569.50M1145.40,1569.50H1165.20" stroke="#AC08E3" stroke-width="3.9" fill="none" stroke-linecap="round"/>
<polyline points="890.20,1436.00 978.50,1549.00 1022.50,1659.00 1067.00,1716.10 1110.90,1659.00 1155.30,1556.00 1199.70,1440.00" stroke="#AC08E3" stroke-width="4.0" fill="none" stroke-linejoin="round" stroke-linecap="round"/>
<circle cx="890.20" cy="1436.00" r="10.0" fill="#AC08E3"/>
<circle cx="978.50" cy="1549.00" r="10.0" fill="#AC08E3"/>
<circle cx="1022.50" cy="1659.00" r="10.0" fill="#AC08E3"/>
<circle cx="1067.00" cy="1716.10" r="10.0" fill="#AC08E3"/>
<circle cx="1110.90" cy="1659.00" r="10.0" fill="#AC08E3"/>
<circle cx="1155.30" cy="1556.00" r="10.0" fill="#AC08E3"/>
<circle cx="1199.70" cy="1440.00" r="10.0" fill="#AC08E3"/>
<path d="M978.50,1572.10V1556.10M968.60,1556.10H988.40M978.50,1572.10V1588.10M968.60,1588.10H988.40" stroke="#107C02" stroke-width="3.9" fill="none" stroke-linecap="round"/>
<path d="M1155.30,1586.00V1567.00M1145.40,1567.00H1165.20M1155.30,1586.00V1605.00M1145.40,1605.00H1165.20" stroke="#107C02" stroke-width="3.9" fill="none" stroke-linecap="round"/>
<path d="M1199.70,1444.50V1432.80M1189.80,1432.80H1209.60M1199.70,1444.50V1456.20M1189.80,1456.20H1209.60" stroke="#107C02" stroke-width="3.9" fill="none" stroke-linecap="round"/>
<polyline points="890.20,1432.00 978.50,1572.10 1022.50,1650.70 1067.00,1672.10 1110.90,1654.00 1155.30,1586.00 1199.70,1444.50" stroke="#107C02" stroke-width="4.0" fill="none" stroke-linejoin="round" stroke-linecap="round"/>
<polygon points="890.20,1421.80 900.40,1432.00 890.20,1442.20 880.00,1432.00" fill="#107C02"/>
<polygon points="978.50,1561.90 988.70,1572.10 978.50,1582.30 968.30,1572.10" fill="#107C02"/>
<polygon points="1022.50,1640.50 1032.70,1650.70 1022.50,1660.90 1012.30,1650.70" fill="#107C02"/>
<polygon points="1067.00,1661.90 1077.20,1672.10 1067.00,1682.30 1056.80,1672.10" fill="#107C02"/>
<polygon points="1110.90,1643.80 1121.10,1654.00 1110.90,1664.20 1100.70,1654.00" fill="#107C02"/>
<polygon points="1155.30,1575.80 1165.50,1586.00 1155.30,1596.20 1145.10,1586.00" fill="#107C02"/>
<polygon points="1199.70,1434.30 1209.90,1444.50 1199.70,1454.70 1189.50,1444.50" fill="#107C02"/>
<path d="M1155.30,1574.00V1556.00M1145.40,1556.00H1165.20M1155.30,1574.00V1592.00M1145.40,1592.00H1165.20" stroke="#000000" stroke-width="3.9" fill="none" stroke-linecap="round"/>
<polyline points="890.20,1430.00 978.50,1549.40 1022.50,1664.10 1067.00,1697.40 1110.90,1658.70 1155.30,1574.00 1199.70,1443.50" stroke="#000000" stroke-width="4.0" fill="none" stroke-linejoin="round" stroke-linecap="round"/>
<circle cx="890.20" cy="1430.00" r="10.0" fill="#000000"/>
<circle cx="978.50" cy="1549.40" r="10.0" fill="#000000"/>
<circle cx="1022.50" cy="1664.10" r="10.0" fill="#000000"/>
<circle cx="1067.00" cy="1697.40" r="10.0" fill="#000000"/>
<circle cx="1110.90" cy="1658.70" r="10.0" fill="#000000"/>
<circle cx="1155.30" cy="1574.00" r="10.0" fill="#000000"/>
<circle cx="1199.70" cy="1443.50" r="10.0" fill="#000000"/>
<circle cx="54.50" cy="109.40" r="10.0" fill="#A09FA4"/>
<polygon points="44.50,140.25 64.50,140.25 54.50,159.75" fill="#A09FA4"/>
<circle cx="54.50" cy="185.30" r="10.0" fill="#000000"/>
<circle cx="54.50" cy="223.30" r="10.0" fill="#AC08E3"/>
<polygon points="54.50,253.80 64.70,264.00 54.50,274.20 44.30,264.00" fill="#107C02"/>
<polygon points="54.50,290.70 64.70,300.90 54.50,311.10 44.30,300.90" fill="#FE820A"/>
<circle cx="713.10" cy="103.70" r="10.0" fill="#A09FA4"/>
<polygon points="703.10,134.55 723.10,134.55 713.10,154.05" fill="#A09FA4"/>
<circle cx="713.10" cy="179.60" r="10.0" fill="#000000"/>
<circle cx="713.10" cy="217.50" r="10.0" fill="#AC08E3"/>
<polygon points="713.10,247.80 723.30,258.00 713.10,268.20 702.90,258.00" fill="#107C02"/>
<polygon points="713.10,285.00 723.30,295.20 713.10,305.40 702.90,295.20" fill="#FE820A"/>
<circle cx="35.00" cy="1073.50" r="10.0" fill="#A09FA4"/>
<polygon points="25.00,1103.85 45.00,1103.85 35.00,1123.35" fill="#A09FA4"/>
<circle cx="35.00" cy="1149.10" r="10.0" fill="#000000"/>
<circle cx="35.00" cy="1187.40" r="10.0" fill="#AC08E3"/>
<polygon points="35.00,1217.60 45.20,1227.80 35.00,1238.00 24.80,1227.80" fill="#107C02"/>
<polygon points="35.00,1254.50 45.20,1264.70 35.00,1274.90 24.80,1264.70" fill="#FE820A"/>
<circle cx="713.00" cy="1071.30" r="10.0" fill="#A09FA4"/>
<polygon points="703.00,1101.85 723.00,1101.85 713.00,1121.35" fill="#A09FA4"/>
<circle cx="713.00" cy="1147.00" r="10.0" fill="#000000"/>
<circle cx="713.00" cy="1185.00" r="10.0" fill="#AC08E3"/>
<polygon points="713.00,1215.70 723.20,1225.90 713.00,1236.10 702.80,1225.90" fill="#107C02"/>
<polygon points="713.00,1252.60 723.20,1262.80 713.00,1273.00 702.80,1262.80" fill="#FE820A"/>
<path d="M199.04,695.95L199.04,690.65M199.04,695.95L204.08,694.31M199.04,695.95L202.16,700.24M199.04,695.95L195.93,700.24M199.04,695.95L194.00,694.31M212.35,695.95L212.35,690.65M212.35,695.95L217.39,694.31M212.35,695.95L215.47,700.24M212.35,695.95L209.23,700.24M212.35,695.95L207.31,694.31M225.66,695.95L225.66,690.65M225.66,695.95L230.70,694.31M225.66,695.95L228.77,700.24M225.66,695.95L222.54,700.24M225.66,695.95L220.62,694.31M241.64,809.25L241.64,803.95M241.64,809.25L246.68,807.61M241.64,809.25L244.76,813.54M241.64,809.25L238.53,813.54M241.64,809.25L236.60,807.61M255.30,809.25L255.30,803.95M255.30,809.25L260.34,807.61M255.30,809.25L258.42,813.54M255.30,809.25L252.18,813.54M255.30,809.25L250.26,807.61M268.96,809.25L268.96,803.95M268.96,809.25L274.00,807.61M268.96,809.25L272.07,813.54M268.96,809.25L265.84,813.54M268.96,809.25L263.92,807.61M330.44,790.65L330.44,785.35M330.44,790.65L335.48,789.01M330.44,790.65L333.56,794.94M330.44,790.65L327.33,794.94M330.44,790.65L325.40,789.01M343.55,790.65L343.55,785.35M343.55,790.65L348.59,789.01M343.55,790.65L346.67,794.94M343.55,790.65L340.43,794.94M343.55,790.65L338.51,789.01M356.66,790.65L356.66,785.35M356.66,790.65L361.70,789.01M356.66,790.65L359.77,794.94M356.66,790.65L353.54,794.94M356.66,790.65L351.62,789.01M419.14,808.35L419.14,803.05M419.14,808.35L424.18,806.71M419.14,808.35L422.26,812.64M419.14,808.35L416.03,812.64M419.14,808.35L414.10,806.71M432.45,808.35L432.45,803.05M432.45,808.35L437.49,806.71M432.45,808.35L435.57,812.64M432.45,808.35L429.33,812.64M432.45,808.35L427.41,806.71M445.76,808.35L445.76,803.05M445.76,808.35L450.80,806.71M445.76,808.35L448.87,812.64M445.76,808.35L442.64,812.64M445.76,808.35L440.72,806.71M465.44,646.70L465.44,641.40M465.44,646.70L470.48,645.06M465.44,646.70L468.56,650.99M465.44,646.70L462.33,650.99M465.44,646.70L460.40,645.06M479.20,646.70L479.20,641.40M479.20,646.70L484.24,645.06M479.20,646.70L482.32,650.99M479.20,646.70L476.08,650.99M479.20,646.70L474.16,645.06M492.96,646.70L492.96,641.40M492.96,646.70L498.00,645.06M492.96,646.70L496.07,650.99M492.96,646.70L489.84,650.99M492.96,646.70L487.92,645.06M930.04,633.75L930.04,628.45M930.04,633.75L935.08,632.11M930.04,633.75L933.16,638.04M930.04,633.75L926.93,638.04M930.04,633.75L925.00,632.11M943.60,633.75L943.60,628.45M943.60,633.75L948.64,632.11M943.60,633.75L946.72,638.04M943.60,633.75L940.48,638.04M943.60,633.75L938.56,632.11M957.16,633.75L957.16,628.45M957.16,633.75L962.20,632.11M957.16,633.75L960.27,638.04M957.16,633.75L954.04,638.04M957.16,633.75L952.12,632.11M997.04,750.30L997.04,745.00M997.04,750.30L1002.08,748.66M997.04,750.30L1000.16,754.59M997.04,750.30L993.93,754.59M997.04,750.30L992.00,748.66M1010.35,750.30L1010.35,745.00M1010.35,750.30L1015.39,748.66M1010.35,750.30L1013.47,754.59M1010.35,750.30L1007.23,754.59M1010.35,750.30L1005.31,748.66M1023.66,750.30L1023.66,745.00M1023.66,750.30L1028.70,748.66M1023.66,750.30L1026.77,754.59M1023.66,750.30L1020.54,754.59M1023.66,750.30L1018.62,748.66M1051.24,787.75L1051.24,782.45M1051.24,787.75L1056.28,786.11M1051.24,787.75L1054.36,792.04M1051.24,787.75L1048.13,792.04M1051.24,787.75L1046.20,786.11M1064.85,787.75L1064.85,782.45M1064.85,787.75L1069.89,786.11M1064.85,787.75L1067.97,792.04M1064.85,787.75L1061.73,792.04M1064.85,787.75L1059.81,786.11M1078.46,787.75L1078.46,782.45M1078.46,787.75L1083.50,786.11M1078.46,787.75L1081.57,792.04M1078.46,787.75L1075.34,792.04M1078.46,787.75L1073.42,786.11M1105.34,754.75L1105.34,749.45M1105.34,754.75L1110.38,753.11M1105.34,754.75L1108.46,759.04M1105.34,754.75L1102.23,759.04M1105.34,754.75L1100.30,753.11M1118.90,754.75L1118.90,749.45M1118.90,754.75L1123.94,753.11M1118.90,754.75L1122.02,759.04M1118.90,754.75L1115.78,759.04M1118.90,754.75L1113.86,753.11M1132.46,754.75L1132.46,749.45M1132.46,754.75L1137.50,753.11M1132.46,754.75L1135.57,759.04M1132.46,754.75L1129.34,759.04M1132.46,754.75L1127.42,753.11M1159.04,666.90L1159.04,661.60M1159.04,666.90L1164.08,665.26M1159.04,666.90L1162.16,671.19M1159.04,666.90L1155.93,671.19M1159.04,666.90L1154.00,665.26M1172.35,666.90L1172.35,661.60M1172.35,666.90L1177.39,665.26M1172.35,666.90L1175.47,671.19M1172.35,666.90L1169.23,671.19M1172.35,666.90L1167.31,665.26M1185.66,666.90L1185.66,661.60M1185.66,666.90L1190.70,665.26M1185.66,666.90L1188.77,671.19M1185.66,666.90L1182.54,671.19M1185.66,666.90L1180.62,665.26M202.34,1679.55L202.34,1674.25M202.34,1679.55L207.38,1677.91M202.34,1679.55L205.46,1683.84M202.34,1679.55L199.23,1683.84M202.34,1679.55L197.30,1677.91M216.00,1679.55L216.00,1674.25M216.00,1679.55L221.04,1677.91M216.00,1679.55L219.12,1683.84M216.00,1679.55L212.88,1683.84M216.00,1679.55L210.96,1677.91M229.66,1679.55L229.66,1674.25M229.66,1679.55L234.70,1677.91M229.66,1679.55L232.77,1683.84M229.66,1679.55L226.54,1683.84M229.66,1679.55L224.62,1677.91M245.74,1770.75L245.74,1765.45M245.74,1770.75L250.78,1769.11M245.74,1770.75L248.86,1775.04M245.74,1770.75L242.63,1775.04M245.74,1770.75L240.70,1769.11M259.40,1770.75L259.40,1765.45M259.40,1770.75L264.44,1769.11M259.40,1770.75L262.52,1775.04M259.40,1770.75L256.28,1775.04M259.40,1770.75L254.36,1769.11M273.06,1770.75L273.06,1765.45M273.06,1770.75L278.10,1769.11M273.06,1770.75L276.17,1775.04M273.06,1770.75L269.94,1775.04M273.06,1770.75L268.02,1769.11M333.74,1787.60L333.74,1782.30M333.74,1787.60L338.78,1785.96M333.74,1787.60L336.86,1791.89M333.74,1787.60L330.63,1791.89M333.74,1787.60L328.70,1785.96M347.35,1787.60L347.35,1782.30M347.35,1787.60L352.39,1785.96M347.35,1787.60L350.47,1791.89M347.35,1787.60L344.23,1791.89M347.35,1787.60L342.31,1785.96M360.96,1787.60L360.96,1782.30M360.96,1787.60L366.00,1785.96M360.96,1787.60L364.07,1791.89M360.96,1787.60L357.84,1791.89M360.96,1787.60L355.92,1785.96M416.44,1739.60L416.44,1734.30M416.44,1739.60L421.48,1737.96M416.44,1739.60L419.56,1743.89M416.44,1739.60L413.33,1743.89M416.44,1739.60L411.40,1737.96M430.10,1739.60L430.10,1734.30M430.10,1739.60L435.14,1737.96M430.10,1739.60L433.22,1743.89M430.10,1739.60L426.98,1743.89M430.10,1739.60L425.06,1737.96M443.76,1739.60L443.76,1734.30M443.76,1739.60L448.80,1737.96M443.76,1739.60L446.87,1743.89M443.76,1739.60L440.64,1743.89M443.76,1739.60L438.72,1737.96M461.84,1580.95L461.84,1575.65M461.84,1580.95L466.88,1579.31M461.84,1580.95L464.96,1585.24M461.84,1580.95L458.73,1585.24M461.84,1580.95L456.80,1579.31M475.15,1580.95L475.15,1575.65M475.15,1580.95L480.19,1579.31M475.15,1580.95L478.27,1585.24M475.15,1580.95L472.03,1585.24M475.15,1580.95L470.11,1579.31M488.46,1580.95L488.46,1575.65M488.46,1580.95L493.50,1579.31M488.46,1580.95L491.57,1585.24M488.46,1580.95L485.34,1585.24M488.46,1580.95L483.42,1579.31M947.54,1639.75L947.54,1634.45M947.54,1639.75L952.58,1638.11M947.54,1639.75L950.66,1644.04M947.54,1639.75L944.43,1644.04M947.54,1639.75L942.50,1638.11M961.25,1639.75L961.25,1634.45M961.25,1639.75L966.29,1638.11M961.25,1639.75L964.37,1644.04M961.25,1639.75L958.13,1644.04M961.25,1639.75L956.21,1638.11M974.96,1639.75L974.96,1634.45M974.96,1639.75L980.00,1638.11M974.96,1639.75L978.07,1644.04M974.96,1639.75L971.84,1644.04M974.96,1639.75L969.92,1638.11M988.44,1697.25L988.44,1691.95M988.44,1697.25L993.48,1695.61M988.44,1697.25L991.56,1701.54M988.44,1697.25L985.33,1701.54M988.44,1697.25L983.40,1695.61M1001.70,1697.25L1001.70,1691.95M1001.70,1697.25L1006.74,1695.61M1001.70,1697.25L1004.82,1701.54M1001.70,1697.25L998.58,1701.54M1001.70,1697.25L996.66,1695.61M1014.96,1697.25L1014.96,1691.95M1014.96,1697.25L1020.00,1695.61M1014.96,1697.25L1018.07,1701.54M1014.96,1697.25L1011.84,1701.54M1014.96,1697.25L1009.92,1695.61M1051.54,1749.65L1051.54,1744.35M1051.54,1749.65L1056.58,1748.01M1051.54,1749.65L1054.66,1753.94M1051.54,1749.65L1048.43,1753.94M1051.54,1749.65L1046.50,1748.01M1064.65,1749.65L1064.65,1744.35M1064.65,1749.65L1069.69,1748.01M1064.65,1749.65L1067.77,1753.94M1064.65,1749.65L1061.53,1753.94M1064.65,1749.65L1059.61,1748.01M1077.76,1749.65L1077.76,1744.35M1077.76,1749.65L1082.80,1748.01M1077.76,1749.65L1080.87,1753.94M1077.76,1749.65L1074.64,1753.94M1077.76,1749.65L1072.72,1748.01M1103.84,1692.25L1103.84,1686.95M1103.84,1692.25L1108.88,1690.61M1103.84,1692.25L1106.96,1696.54M1103.84,1692.25L1100.73,1696.54M1103.84,1692.25L1098.80,1690.61M1116.80,1692.25L1116.80,1686.95M1116.80,1692.25L1121.84,1690.61M1116.80,1692.25L1119.92,1696.54M1116.80,1692.25L1113.68,1696.54M1116.80,1692.25L1111.76,1690.61M1129.76,1692.25L1129.76,1686.95M1129.76,1692.25L1134.80,1690.61M1129.76,1692.25L1132.87,1696.54M1129.76,1692.25L1126.64,1696.54M1129.76,1692.25L1124.72,1690.61M1156.14,1625.35L1156.14,1620.05M1156.14,1625.35L1161.18,1623.71M1156.14,1625.35L1159.26,1629.64M1156.14,1625.35L1153.03,1629.64M1156.14,1625.35L1151.10,1623.71M1169.50,1625.35L1169.50,1620.05M1169.50,1625.35L1174.54,1623.71M1169.50,1625.35L1172.62,1629.64M1169.50,1625.35L1166.38,1629.64M1169.50,1625.35L1164.46,1623.71M1182.86,1625.35L1182.86,1620.05M1182.86,1625.35L1187.90,1623.71M1182.86,1625.35L1185.97,1629.64M1182.86,1625.35L1179.74,1629.64M1182.86,1625.35L1177.82,1623.71" stroke="#000" stroke-width="2.3" fill="none" stroke-linecap="butt"/>
<path d="M291.32,610.65C290.92,608.28 289.12,607.25 286.91,607.25C284.63,607.25 282.71,608.49 282.71,610.48C282.71,612.23 283.83,613.27 285.51,614.30L290.40,617.21C291.93,618.16 292.53,619.37 292.53,620.74C292.53,622.81 291.44,624.27 289.60,625.18M284.63,614.10C282.38,615.22 281.30,616.59 281.30,618.37C281.30,620.12 282.22,621.03 283.91,622.07L288.72,624.81C290.40,625.84 291.12,626.97 291.12,628.50C291.12,630.83 289.32,632.15 286.91,632.15C284.39,632.15 282.63,630.83 282.22,628.42M307.21,610.65C306.81,608.28 305.00,607.25 302.80,607.25C300.52,607.25 298.59,608.49 298.59,610.48C298.59,612.23 299.71,613.27 301.40,614.30L306.29,617.21C307.81,618.16 308.41,619.37 308.41,620.74C308.41,622.81 307.33,624.27 305.49,625.18M300.52,614.10C298.27,615.22 297.19,616.59 297.19,618.37C297.19,620.12 298.11,621.03 299.79,622.07L304.60,624.81C306.29,625.84 307.01,626.97 307.01,628.50C307.01,630.83 305.21,632.15 302.80,632.15C300.27,632.15 298.51,630.83 298.11,628.42M323.09,610.65C322.69,608.28 320.89,607.25 318.69,607.25C316.40,607.25 314.48,608.49 314.48,610.48C314.48,612.23 315.60,613.27 317.28,614.30L322.17,617.21C323.70,618.16 324.30,619.37 324.30,620.74C324.30,622.81 323.22,624.27 321.37,625.18M316.40,614.10C314.16,615.22 313.07,616.59 313.07,618.37C313.07,620.12 313.99,621.03 315.68,622.07L320.49,624.81C322.17,625.84 322.89,626.97 322.89,628.50C322.89,630.83 321.09,632.15 318.69,632.15C316.16,632.15 314.40,630.83 313.99,628.42M237.92,1562.51C237.52,1560.27 235.72,1559.28 233.51,1559.28C231.23,1559.28 229.31,1560.46 229.31,1562.35C229.31,1564.01 230.43,1564.99 232.11,1565.98L237.00,1568.74C238.53,1569.64 239.13,1570.78 239.13,1572.08C239.13,1574.05 238.04,1575.43 236.20,1576.30M231.23,1565.78C228.98,1566.85 227.90,1568.15 227.90,1569.84C227.90,1571.49 228.82,1572.36 230.51,1573.35L235.32,1575.95C237.00,1576.93 237.72,1577.99 237.72,1579.45C237.72,1581.66 235.92,1582.92 233.51,1582.92C230.99,1582.92 229.23,1581.66 228.82,1579.37M253.81,1562.51C253.41,1560.27 251.60,1559.28 249.40,1559.28C247.12,1559.28 245.19,1560.46 245.19,1562.35C245.19,1564.01 246.31,1564.99 248.00,1565.98L252.89,1568.74C254.41,1569.64 255.01,1570.78 255.01,1572.08C255.01,1574.05 253.93,1575.43 252.09,1576.30M247.12,1565.78C244.87,1566.85 243.79,1568.15 243.79,1569.84C243.79,1571.49 244.71,1572.36 246.39,1573.35L251.20,1575.95C252.89,1576.93 253.61,1577.99 253.61,1579.45C253.61,1581.66 251.81,1582.92 249.40,1582.92C246.87,1582.92 245.11,1581.66 244.71,1579.37M269.69,1562.51C269.29,1560.27 267.49,1559.28 265.29,1559.28C263.00,1559.28 261.08,1560.46 261.08,1562.35C261.08,1564.01 262.20,1564.99 263.88,1565.98L268.77,1568.74C270.30,1569.64 270.90,1570.78 270.90,1572.08C270.90,1574.05 269.82,1575.43 267.97,1576.30M263.00,1565.78C260.76,1566.85 259.67,1568.15 259.67,1569.84C259.67,1571.49 260.59,1572.36 262.28,1573.35L267.09,1575.95C268.77,1576.93 269.49,1577.99 269.49,1579.45C269.49,1581.66 267.69,1582.92 265.29,1582.92C262.76,1582.92 261.00,1581.66 260.59,1579.37M260.10,1598.99C259.69,1596.81 257.86,1595.85 255.62,1595.85C253.30,1595.85 251.35,1597.00 251.35,1598.84C251.35,1600.45 252.49,1601.41 254.20,1602.37L259.16,1605.05C260.71,1605.93 261.32,1607.04 261.32,1608.31C261.32,1610.22 260.22,1611.57 258.35,1612.41M253.30,1602.17C251.02,1603.21 249.92,1604.48 249.92,1606.12C249.92,1607.73 250.86,1608.58 252.57,1609.54L257.45,1612.07C259.16,1613.02 259.89,1614.06 259.89,1615.48C259.89,1617.62 258.06,1618.85 255.62,1618.85C253.06,1618.85 251.26,1617.62 250.86,1615.40M276.23,1598.99C275.82,1596.81 273.99,1595.85 271.75,1595.85C269.43,1595.85 267.48,1597.00 267.48,1598.84C267.48,1600.45 268.62,1601.41 270.33,1602.37L275.29,1605.05C276.84,1605.93 277.45,1607.04 277.45,1608.31C277.45,1610.22 276.35,1611.57 274.48,1612.41M269.43,1602.17C267.15,1603.21 266.05,1604.48 266.05,1606.12C266.05,1607.73 266.99,1608.58 268.70,1609.54L273.58,1612.07C275.29,1613.02 276.02,1614.06 276.02,1615.48C276.02,1617.62 274.19,1618.85 271.75,1618.85C269.19,1618.85 267.39,1617.62 266.99,1615.40M292.36,1598.99C291.95,1596.81 290.12,1595.85 287.88,1595.85C285.56,1595.85 283.61,1597.00 283.61,1598.84C283.61,1600.45 284.75,1601.41 286.46,1602.37L291.42,1605.05C292.97,1605.93 293.58,1607.04 293.58,1608.31C293.58,1610.22 292.48,1611.57 290.61,1612.41M285.56,1602.17C283.28,1603.21 282.18,1604.48 282.18,1606.12C282.18,1607.73 283.12,1608.58 284.83,1609.54L289.71,1612.07C291.42,1613.02 292.15,1614.06 292.15,1615.48C292.15,1617.62 290.32,1618.85 287.88,1618.85C285.32,1618.85 283.52,1617.62 283.12,1615.40M302.00,1642.43C301.60,1640.17 299.80,1639.19 297.60,1639.19C295.32,1639.19 293.40,1640.37 293.40,1642.27C293.40,1643.93 294.52,1644.92 296.20,1645.91L301.08,1648.68C302.60,1649.59 303.20,1650.73 303.20,1652.04C303.20,1654.02 302.12,1655.40 300.28,1656.27M295.32,1645.71C293.08,1646.78 292.00,1648.08 292.00,1649.78C292.00,1651.45 292.92,1652.32 294.60,1653.30L299.40,1655.91C301.08,1656.90 301.80,1657.97 301.80,1659.43C301.80,1661.65 300.00,1662.91 297.60,1662.91C295.08,1662.91 293.32,1661.65 292.92,1659.35M317.85,1642.43C317.45,1640.17 315.65,1639.19 313.45,1639.19C311.17,1639.19 309.25,1640.37 309.25,1642.27C309.25,1643.93 310.37,1644.92 312.05,1645.91L316.93,1648.68C318.45,1649.59 319.05,1650.73 319.05,1652.04C319.05,1654.02 317.97,1655.40 316.13,1656.27M311.17,1645.71C308.93,1646.78 307.85,1648.08 307.85,1649.78C307.85,1651.45 308.77,1652.32 310.45,1653.30L315.25,1655.91C316.93,1656.90 317.65,1657.97 317.65,1659.43C317.65,1661.65 315.85,1662.91 313.45,1662.91C310.93,1662.91 309.17,1661.65 308.77,1659.35M333.70,1642.43C333.30,1640.17 331.50,1639.19 329.30,1639.19C327.02,1639.19 325.10,1640.37 325.10,1642.27C325.10,1643.93 326.22,1644.92 327.90,1645.91L332.78,1648.68C334.30,1649.59 334.90,1650.73 334.90,1652.04C334.90,1654.02 333.82,1655.40 331.98,1656.27M327.02,1645.71C324.78,1646.78 323.70,1648.08 323.70,1649.78C323.70,1651.45 324.62,1652.32 326.30,1653.30L331.10,1655.91C332.78,1656.90 333.50,1657.97 333.50,1659.43C333.50,1661.65 331.70,1662.91 329.30,1662.91C326.78,1662.91 325.02,1661.65 324.62,1659.35M371.75,1641.73C371.36,1639.47 369.58,1638.49 367.41,1638.49C365.16,1638.49 363.27,1639.67 363.27,1641.57C363.27,1643.23 364.37,1644.22 366.03,1645.21L370.84,1647.98C372.34,1648.89 372.94,1650.03 372.94,1651.34C372.94,1653.32 371.87,1654.70 370.05,1655.57M365.16,1645.01C362.95,1646.08 361.88,1647.38 361.88,1649.08C361.88,1650.75 362.79,1651.62 364.45,1652.60L369.19,1655.21C370.84,1656.20 371.55,1657.27 371.55,1658.73C371.55,1660.95 369.78,1662.21 367.41,1662.21C364.92,1662.21 363.19,1660.95 362.79,1658.65M387.39,1641.73C387.00,1639.47 385.22,1638.49 383.05,1638.49C380.80,1638.49 378.91,1639.67 378.91,1641.57C378.91,1643.23 380.01,1644.22 381.67,1645.21L386.48,1647.98C387.98,1648.89 388.58,1650.03 388.58,1651.34C388.58,1653.32 387.51,1654.70 385.69,1655.57M380.80,1645.01C378.59,1646.08 377.52,1647.38 377.52,1649.08C377.52,1650.75 378.43,1651.62 380.09,1652.60L384.83,1655.21C386.48,1656.20 387.19,1657.27 387.19,1658.73C387.19,1660.95 385.42,1662.21 383.05,1662.21C380.56,1662.21 378.83,1660.95 378.43,1658.65M403.03,1641.73C402.64,1639.47 400.86,1638.49 398.69,1638.49C396.44,1638.49 394.55,1639.67 394.55,1641.57C394.55,1643.23 395.65,1644.22 397.31,1645.21L402.12,1647.98C403.62,1648.89 404.22,1650.03 404.22,1651.34C404.22,1653.32 403.15,1654.70 401.33,1655.57M396.44,1645.01C394.23,1646.08 393.16,1647.38 393.16,1649.08C393.16,1650.75 394.07,1651.62 395.73,1652.60L400.47,1655.21C402.12,1656.20 402.83,1657.27 402.83,1658.73C402.83,1660.95 401.06,1662.21 398.69,1662.21C396.20,1662.21 394.47,1660.95 394.07,1658.65M381.92,1609.21C381.52,1606.97 379.72,1605.98 377.51,1605.98C375.23,1605.98 373.31,1607.16 373.31,1609.05C373.31,1610.71 374.43,1611.69 376.11,1612.68L381.00,1615.44C382.53,1616.34 383.13,1617.48 383.13,1618.78C383.13,1620.75 382.04,1622.13 380.20,1623.00M375.23,1612.48C372.98,1613.55 371.90,1614.85 371.90,1616.54C371.90,1618.19 372.82,1619.06 374.51,1620.05L379.32,1622.65C381.00,1623.63 381.72,1624.69 381.72,1626.15C381.72,1628.36 379.92,1629.62 377.51,1629.62C374.99,1629.62 373.23,1628.36 372.82,1626.07M397.81,1609.21C397.41,1606.97 395.60,1605.98 393.40,1605.98C391.12,1605.98 389.19,1607.16 389.19,1609.05C389.19,1610.71 390.31,1611.69 392.00,1612.68L396.89,1615.44C398.41,1616.34 399.01,1617.48 399.01,1618.78C399.01,1620.75 397.93,1622.13 396.09,1623.00M391.12,1612.48C388.87,1613.55 387.79,1614.85 387.79,1616.54C387.79,1618.19 388.71,1619.06 390.39,1620.05L395.20,1622.65C396.89,1623.63 397.61,1624.69 397.61,1626.15C397.61,1628.36 395.81,1629.62 393.40,1629.62C390.87,1629.62 389.11,1628.36 388.71,1626.07M413.69,1609.21C413.29,1606.97 411.49,1605.98 409.29,1605.98C407.00,1605.98 405.08,1607.16 405.08,1609.05C405.08,1610.71 406.20,1611.69 407.88,1612.68L412.77,1615.44C414.30,1616.34 414.90,1617.48 414.90,1618.78C414.90,1620.75 413.82,1622.13 411.97,1623.00M407.00,1612.48C404.76,1613.55 403.67,1614.85 403.67,1616.54C403.67,1618.19 404.59,1619.06 406.28,1620.05L411.09,1622.65C412.77,1623.63 413.49,1624.69 413.49,1626.15C413.49,1628.36 411.69,1629.62 409.29,1629.62C406.76,1629.62 405.00,1628.36 404.59,1626.07" stroke="#000" stroke-width="2.45" fill="none" stroke-linecap="butt" stroke-linejoin="round"/>
<text transform="translate(7.60,41.43) scale(0.8957,0.8708)" font-size="40" stroke="#000" stroke-width="0.4" stroke-linejoin="round" xml:space="preserve"><tspan font-weight="bold">a</tspan></text>
<text transform="translate(665.07,29.67) scale(1.0136,0.9281)" font-size="40" stroke="#000" stroke-width="0.4" stroke-linejoin="round" xml:space="preserve"><tspan font-weight="bold">b</tspan></text>
<text transform="translate(-0.03,1028.81) scale(0.9333,0.8917)" font-size="40" stroke="#000" stroke-width="0.4" stroke-linejoin="round" xml:space="preserve"><tspan font-weight="bold">c</tspan></text>
<text transform="translate(671.83,1016.97) scale(0.9727,0.9281)" font-size="40" stroke="#000" stroke-width="0.4" stroke-linejoin="round" xml:space="preserve"><tspan font-weight="bold">d</tspan></text>
<text transform="translate(721.57,52.80) scale(0.9663,0.9850)" font-size="36" stroke="#000" stroke-width="0.4" stroke-linejoin="round" xml:space="preserve"><tspan >Paw mechanical allodynia</tspan></text>
<text transform="translate(731.88,1028.20) scale(0.9615,0.9850)" font-size="36" stroke="#000" stroke-width="0.4" stroke-linejoin="round" xml:space="preserve"><tspan >Paw mechanical allodynia</tspan></text>
<text transform="translate(93.58,119.70) scale(0.9239,0.9850)" font-size="36" stroke="#000" stroke-width="0.4" stroke-linejoin="round" xml:space="preserve"><tspan >Control - Veh/Veh</tspan></text>
<text transform="translate(96.39,160.90) scale(0.9427,0.9850)" font-size="36" stroke="#000" stroke-width="0.4" stroke-linejoin="round" xml:space="preserve"><tspan font-style="italic">Adv</tspan><tspan >-Cre</tspan><tspan font-size="19.5" dy="-11.0">+</tspan><tspan dy="11.0">/</tspan><tspan font-style="italic">Ramp1</tspan><tspan font-size="19.5" dy="-11.0">fl/fl</tspan><tspan dy="11.0"> - Veh/Veh</tspan></text>
<text transform="translate(93.58,197.00) scale(0.9211,0.9850)" font-size="36" stroke="#000" stroke-width="0.4" stroke-linejoin="round" xml:space="preserve"><tspan >Control - GTN/Veh</tspan></text>
<text transform="translate(96.37,233.50) scale(0.9361,0.9850)" font-size="36" stroke="#000" stroke-width="0.4" stroke-linejoin="round" xml:space="preserve"><tspan font-style="italic">Adv</tspan><tspan >-Cre</tspan><tspan font-size="19.5" dy="-11.0">+</tspan><tspan dy="11.0">/</tspan><tspan font-style="italic">Ramp1</tspan><tspan font-size="19.5" dy="-11.0">fl/fl</tspan><tspan dy="11.0">- GTN/Veh</tspan></text>
<text transform="translate(93.59,273.10) scale(0.9120,0.9850)" font-size="36" stroke="#000" stroke-width="0.4" stroke-linejoin="round" xml:space="preserve"><tspan >Control - GTN/Olcegepant</tspan></text>
<text transform="translate(96.35,309.10) scale(0.9267,0.9850)" font-size="36" stroke="#000" stroke-width="0.4" stroke-linejoin="round" xml:space="preserve"><tspan font-style="italic">Adv</tspan><tspan >-Cre</tspan><tspan font-size="19.5" dy="-11.0">+</tspan><tspan dy="11.0">/</tspan><tspan font-style="italic">Ramp1</tspan><tspan font-size="19.5" dy="-11.0">fl/fl</tspan><tspan dy="11.0"> - GTN/Olcegepant</tspan></text>
<text transform="translate(751.98,113.20) scale(0.9229,0.9850)" font-size="36" stroke="#000" stroke-width="0.4" stroke-linejoin="round" xml:space="preserve"><tspan >Control - Veh/Veh</tspan></text>
<text transform="translate(754.79,154.70) scale(0.9443,0.9850)" font-size="36" stroke="#000" stroke-width="0.4" stroke-linejoin="round" xml:space="preserve"><tspan font-style="italic">Adv</tspan><tspan >-Cre</tspan><tspan font-size="19.5" dy="-11.0">+</tspan><tspan dy="11.0">/</tspan><tspan font-style="italic">Ramp1</tspan><tspan font-size="19.5" dy="-11.0">fl/fl</tspan><tspan dy="11.0"> - Veh/Veh</tspan></text>
<text transform="translate(751.98,191.00) scale(0.9224,0.9850)" font-size="36" stroke="#000" stroke-width="0.4" stroke-linejoin="round" xml:space="preserve"><tspan >Control - GTN/Veh</tspan></text>
<text transform="translate(754.77,227.50) scale(0.9362,0.9850)" font-size="36" stroke="#000" stroke-width="0.4" stroke-linejoin="round" xml:space="preserve"><tspan font-style="italic">Adv</tspan><tspan >-Cre</tspan><tspan font-size="19.5" dy="-11.0">+</tspan><tspan dy="11.0">/</tspan><tspan font-style="italic">Ramp1</tspan><tspan font-size="19.5" dy="-11.0">fl/fl</tspan><tspan dy="11.0"> - GTN/Veh</tspan></text>
<text transform="translate(751.99,266.20) scale(0.9110,0.9850)" font-size="36" stroke="#000" stroke-width="0.4" stroke-linejoin="round" xml:space="preserve"><tspan >Control - GTN/Olcegepant</tspan></text>
<text transform="translate(754.76,303.00) scale(0.9275,0.9850)" font-size="36" stroke="#000" stroke-width="0.4" stroke-linejoin="round" xml:space="preserve"><tspan font-style="italic">Adv</tspan><tspan >-Cre</tspan><tspan font-size="19.5" dy="-11.0">+</tspan><tspan dy="11.0">/</tspan><tspan font-style="italic">Ramp1</tspan><tspan font-size="19.5" dy="-11.0">fl/fl</tspan><tspan dy="11.0"> - GTN/Olcegepant</tspan></text>
<text transform="translate(74.68,1083.10) scale(0.9232,0.9850)" font-size="36" stroke="#000" stroke-width="0.4" stroke-linejoin="round" xml:space="preserve"><tspan >Control - Veh/Veh</tspan></text>
<text transform="translate(75.97,1124.90) scale(0.9347,0.9850)" font-size="36" stroke="#000" stroke-width="0.4" stroke-linejoin="round" xml:space="preserve"><tspan font-style="italic">Plp1</tspan><tspan >-Cre</tspan><tspan font-size="19.5" dy="-11.0">ERT+</tspan><tspan dy="11.0">/</tspan><tspan font-style="italic">Ramp1</tspan><tspan font-size="19.5" dy="-11.0">fl/fl</tspan><tspan dy="11.0"> - Veh/Veh</tspan></text>
<text transform="translate(74.68,1161.00) scale(0.9187,0.9850)" font-size="36" stroke="#000" stroke-width="0.4" stroke-linejoin="round" xml:space="preserve"><tspan >Control - GTN/Veh</tspan></text>
<text transform="translate(75.97,1196.90) scale(0.9328,0.9850)" font-size="36" stroke="#000" stroke-width="0.4" stroke-linejoin="round" xml:space="preserve"><tspan font-style="italic">Plp1</tspan><tspan >-Cre</tspan><tspan font-size="19.5" dy="-11.0">ERT+</tspan><tspan dy="11.0">/</tspan><tspan font-style="italic">Ramp1</tspan><tspan font-size="19.5" dy="-11.0">fl/fl</tspan><tspan dy="11.0"> - GTN/Veh</tspan></text>
<text transform="translate(74.69,1236.60) scale(0.9086,0.9850)" font-size="36" stroke="#000" stroke-width="0.4" stroke-linejoin="round" xml:space="preserve"><tspan >Control - GTN/Olcegepant</tspan></text>
<text transform="translate(75.98,1272.90) scale(0.9192,0.9850)" font-size="36" stroke="#000" stroke-width="0.4" stroke-linejoin="round" xml:space="preserve"><tspan font-style="italic">Plp1</tspan><tspan >-Cre</tspan><tspan font-size="19.5" dy="-11.0">ERT+</tspan><tspan dy="11.0">/</tspan><tspan font-style="italic">Ramp1</tspan><tspan font-size="19.5" dy="-11.0">fl/fl</tspan><tspan dy="11.0"> - GTN/Olcegepant</tspan></text>
<text transform="translate(751.98,1081.10) scale(0.9229,0.9850)" font-size="36" stroke="#000" stroke-width="0.4" stroke-linejoin="round" xml:space="preserve"><tspan >Control - Veh/Veh</tspan></text>
<text transform="translate(754.27,1122.90) scale(0.9260,0.9850)" font-size="36" stroke="#000" stroke-width="0.4" stroke-linejoin="round" xml:space="preserve"><tspan font-style="italic">Plp1</tspan><tspan >-Cre</tspan><tspan font-size="19.5" dy="-11.0">ERT+</tspan><tspan dy="11.0">/</tspan><tspan font-style="italic">Ramp1</tspan><tspan font-size="19.5" dy="-11.0">fl/fl</tspan><tspan dy="11.0"> - Veh/Veh</tspan></text>
<text transform="translate(751.98,1158.50) scale(0.9224,0.9850)" font-size="36" stroke="#000" stroke-width="0.4" stroke-linejoin="round" xml:space="preserve"><tspan >Control - GTN/Veh</tspan></text>
<text transform="translate(754.28,1194.90) scale(0.9248,0.9850)" font-size="36" stroke="#000" stroke-width="0.4" stroke-linejoin="round" xml:space="preserve"><tspan font-style="italic">Plp1</tspan><tspan >-Cre</tspan><tspan font-size="19.5" dy="-11.0">ERT+</tspan><tspan dy="11.0">/</tspan><tspan font-style="italic">Ramp1</tspan><tspan font-size="19.5" dy="-11.0">fl/fl</tspan><tspan dy="11.0"> - GTN/Veh</tspan></text>
<text transform="translate(751.99,1235.00) scale(0.9110,0.9850)" font-size="36" stroke="#000" stroke-width="0.4" stroke-linejoin="round" xml:space="preserve"><tspan >Control - GTN/Olcegepant</tspan></text>
<text transform="translate(754.27,1271.40) scale(0.9260,0.9850)" font-size="36" stroke="#000" stroke-width="0.4" stroke-linejoin="round" xml:space="preserve"><tspan font-style="italic">Plp1</tspan><tspan >-Cre</tspan><tspan font-size="19.5" dy="-11.0">ERT+</tspan><tspan dy="11.0">/</tspan><tspan font-style="italic">Ramp1</tspan><tspan font-size="19.5" dy="-11.0">fl/fl</tspan><tspan dy="11.0"> - GTN/Olcegepant</tspan></text>
<text transform="translate(61.40,709.60) rotate(-90) scale(0.9620,1)" font-size="36" stroke="#000" stroke-width="0.4" stroke-linejoin="round" xml:space="preserve"><tspan >Threshold (g)</tspan></text>
<text transform="translate(786.00,709.60) rotate(-90) scale(0.9648,1)" font-size="36" stroke="#000" stroke-width="0.4" stroke-linejoin="round" xml:space="preserve"><tspan >Threshold (g)</tspan></text>
<text transform="translate(65.80,1674.10) rotate(-90) scale(0.9624,1)" font-size="36" stroke="#000" stroke-width="0.4" stroke-linejoin="round" xml:space="preserve"><tspan >Threshold (g)</tspan></text>
<text transform="translate(782.30,1674.10) rotate(-90) scale(0.9624,1)" font-size="36" stroke="#000" stroke-width="0.4" stroke-linejoin="round" xml:space="preserve"><tspan >Threshold (g)</tspan></text>
<text transform="translate(76.14,357.80) scale(0.9625,0.9850)" font-size="36" stroke="#000" stroke-width="0.4" stroke-linejoin="round" xml:space="preserve"><tspan >0.8</tspan></text>
<text transform="translate(76.14,482.20) scale(0.9625,0.9850)" font-size="36" stroke="#000" stroke-width="0.4" stroke-linejoin="round" xml:space="preserve"><tspan >0.6</tspan></text>
<text transform="translate(75.17,606.60) scale(0.9625,0.9850)" font-size="36" stroke="#000" stroke-width="0.4" stroke-linejoin="round" xml:space="preserve"><tspan >0.4</tspan></text>
<text transform="translate(76.14,731.00) scale(0.9625,0.9850)" font-size="36" stroke="#000" stroke-width="0.4" stroke-linejoin="round" xml:space="preserve"><tspan >0.2</tspan></text>
<text transform="translate(75.17,855.40) scale(0.9625,0.9850)" font-size="36" stroke="#000" stroke-width="0.4" stroke-linejoin="round" xml:space="preserve"><tspan >0.0</tspan></text>
<text transform="translate(797.24,359.80) scale(0.9633,0.9850)" font-size="36" stroke="#000" stroke-width="0.4" stroke-linejoin="round" xml:space="preserve"><tspan >2.0</tspan></text>
<text transform="translate(798.20,483.90) scale(0.9633,0.9850)" font-size="36" stroke="#000" stroke-width="0.4" stroke-linejoin="round" xml:space="preserve"><tspan >1.5</tspan></text>
<text transform="translate(798.20,608.00) scale(0.9633,0.9850)" font-size="36" stroke="#000" stroke-width="0.4" stroke-linejoin="round" xml:space="preserve"><tspan >1.0</tspan></text>
<text transform="translate(798.20,732.10) scale(0.9633,0.9850)" font-size="36" stroke="#000" stroke-width="0.4" stroke-linejoin="round" xml:space="preserve"><tspan >0.5</tspan></text>
<text transform="translate(797.24,856.20) scale(0.9633,0.9850)" font-size="36" stroke="#000" stroke-width="0.4" stroke-linejoin="round" xml:space="preserve"><tspan >0.0</tspan></text>
<text transform="translate(76.64,1322.50) scale(0.9563,0.9850)" font-size="36" stroke="#000" stroke-width="0.4" stroke-linejoin="round" xml:space="preserve"><tspan >0.8</tspan></text>
<text transform="translate(76.64,1446.80) scale(0.9563,0.9850)" font-size="36" stroke="#000" stroke-width="0.4" stroke-linejoin="round" xml:space="preserve"><tspan >0.6</tspan></text>
<text transform="translate(75.69,1571.10) scale(0.9563,0.9850)" font-size="36" stroke="#000" stroke-width="0.4" stroke-linejoin="round" xml:space="preserve"><tspan >0.4</tspan></text>
<text transform="translate(76.64,1695.40) scale(0.9563,0.9850)" font-size="36" stroke="#000" stroke-width="0.4" stroke-linejoin="round" xml:space="preserve"><tspan >0.2</tspan></text>
<text transform="translate(75.69,1819.70) scale(0.9563,0.9850)" font-size="36" stroke="#000" stroke-width="0.4" stroke-linejoin="round" xml:space="preserve"><tspan >0.0</tspan></text>
<text transform="translate(796.64,1322.80) scale(0.9571,0.9850)" font-size="36" stroke="#000" stroke-width="0.4" stroke-linejoin="round" xml:space="preserve"><tspan >2.0</tspan></text>
<text transform="translate(797.60,1446.90) scale(0.9571,0.9850)" font-size="36" stroke="#000" stroke-width="0.4" stroke-linejoin="round" xml:space="preserve"><tspan >1.5</tspan></text>
<text transform="translate(797.60,1571.00) scale(0.9571,0.9850)" font-size="36" stroke="#000" stroke-width="0.4" stroke-linejoin="round" xml:space="preserve"><tspan >1.0</tspan></text>
<text transform="translate(797.60,1695.10) scale(0.9571,0.9850)" font-size="36" stroke="#000" stroke-width="0.4" stroke-linejoin="round" xml:space="preserve"><tspan >0.5</tspan></text>
<text transform="translate(796.64,1819.20) scale(0.9571,0.9850)" font-size="36" stroke="#000" stroke-width="0.4" stroke-linejoin="round" xml:space="preserve"><tspan >0.0</tspan></text>
<text transform="translate(147.42,895.50) scale(0.9405,0.9850)" font-size="36" stroke="#000" stroke-width="0.4" stroke-linejoin="round" xml:space="preserve"><tspan >BL</tspan></text>
<text transform="translate(201.82,897.50) scale(0.8842,0.9850)" font-size="36" stroke="#000" stroke-width="0.4" stroke-linejoin="round" xml:space="preserve"><tspan >0</tspan></text>
<text transform="translate(232.45,895.50) scale(0.9458,0.9850)" font-size="36" stroke="#000" stroke-width="0.4" stroke-linejoin="round" xml:space="preserve"><tspan >0.5</tspan></text>
<text transform="translate(294.69,895.50) scale(0.7059,0.9850)" font-size="36" stroke="#000" stroke-width="0.4" stroke-linejoin="round" xml:space="preserve"><tspan >1</tspan></text>
<text transform="translate(337.09,895.50) scale(0.9056,0.9850)" font-size="36" stroke="#000" stroke-width="0.4" stroke-linejoin="round" xml:space="preserve"><tspan >2</tspan></text>
<text transform="translate(381.50,895.50) scale(0.8700,0.9850)" font-size="36" stroke="#000" stroke-width="0.4" stroke-linejoin="round" xml:space="preserve"><tspan >4</tspan></text>
<text transform="translate(425.17,895.50) scale(0.9333,0.9850)" font-size="36" stroke="#000" stroke-width="0.4" stroke-linejoin="round" xml:space="preserve"><tspan >6</tspan></text>
<text transform="translate(458.76,895.50) scale(0.9385,0.9850)" font-size="36" stroke="#000" stroke-width="0.4" stroke-linejoin="round" xml:space="preserve"><tspan >24</tspan></text>
<text transform="translate(868.19,896.50) scale(0.9548,0.9850)" font-size="36" stroke="#000" stroke-width="0.4" stroke-linejoin="round" xml:space="preserve"><tspan >BL</tspan></text>
<text transform="translate(925.83,896.50) scale(0.8737,0.9850)" font-size="36" stroke="#000" stroke-width="0.4" stroke-linejoin="round" xml:space="preserve"><tspan >0</tspan></text>
<text transform="translate(953.75,896.50) scale(0.9458,0.9850)" font-size="36" stroke="#000" stroke-width="0.4" stroke-linejoin="round" xml:space="preserve"><tspan >0.5</tspan></text>
<text transform="translate(1015.29,896.50) scale(0.7059,0.9850)" font-size="36" stroke="#000" stroke-width="0.4" stroke-linejoin="round" xml:space="preserve"><tspan >1</tspan></text>
<text transform="translate(1057.91,896.50) scale(0.8889,0.9850)" font-size="36" stroke="#000" stroke-width="0.4" stroke-linejoin="round" xml:space="preserve"><tspan >2</tspan></text>
<text transform="translate(1102.90,896.50) scale(0.8650,0.9850)" font-size="36" stroke="#000" stroke-width="0.4" stroke-linejoin="round" xml:space="preserve"><tspan >4</tspan></text>
<text transform="translate(1145.97,896.50) scale(0.9333,0.9850)" font-size="36" stroke="#000" stroke-width="0.4" stroke-linejoin="round" xml:space="preserve"><tspan >6</tspan></text>
<text transform="translate(1179.36,896.50) scale(0.9436,0.9850)" font-size="36" stroke="#000" stroke-width="0.4" stroke-linejoin="round" xml:space="preserve"><tspan >24</tspan></text>
<text transform="translate(148.17,1861.80) scale(0.9667,0.9850)" font-size="36" stroke="#000" stroke-width="0.4" stroke-linejoin="round" xml:space="preserve"><tspan >BL</tspan></text>
<text transform="translate(205.78,1861.80) scale(0.9158,0.9850)" font-size="36" stroke="#000" stroke-width="0.4" stroke-linejoin="round" xml:space="preserve"><tspan >0</tspan></text>
<text transform="translate(233.74,1861.80) scale(0.9625,0.9850)" font-size="36" stroke="#000" stroke-width="0.4" stroke-linejoin="round" xml:space="preserve"><tspan >0.5</tspan></text>
<text transform="translate(296.18,1861.80) scale(0.6588,0.9850)" font-size="36" stroke="#000" stroke-width="0.4" stroke-linejoin="round" xml:space="preserve"><tspan >1</tspan></text>
<text transform="translate(337.87,1861.80) scale(0.9333,0.9850)" font-size="36" stroke="#000" stroke-width="0.4" stroke-linejoin="round" xml:space="preserve"><tspan >2</tspan></text>
<text transform="translate(382.90,1861.80) scale(0.8650,0.9850)" font-size="36" stroke="#000" stroke-width="0.4" stroke-linejoin="round" xml:space="preserve"><tspan >4</tspan></text>
<text transform="translate(426.78,1861.80) scale(0.9167,0.9850)" font-size="36" stroke="#000" stroke-width="0.4" stroke-linejoin="round" xml:space="preserve"><tspan >6</tspan></text>
<text transform="translate(460.68,1861.80) scale(0.9231,0.9850)" font-size="36" stroke="#000" stroke-width="0.4" stroke-linejoin="round" xml:space="preserve"><tspan >24</tspan></text>
<text transform="translate(867.39,1860.60) scale(0.9548,0.9850)" font-size="36" stroke="#000" stroke-width="0.4" stroke-linejoin="round" xml:space="preserve"><tspan >BL</tspan></text>
<text transform="translate(924.49,1860.60) scale(0.9105,0.9850)" font-size="36" stroke="#000" stroke-width="0.4" stroke-linejoin="round" xml:space="preserve"><tspan >0</tspan></text>
<text transform="translate(952.44,1860.60) scale(0.9562,0.9850)" font-size="36" stroke="#000" stroke-width="0.4" stroke-linejoin="round" xml:space="preserve"><tspan >0.5</tspan></text>
<text transform="translate(1014.69,1860.60) scale(0.7059,0.9850)" font-size="36" stroke="#000" stroke-width="0.4" stroke-linejoin="round" xml:space="preserve"><tspan >1</tspan></text>
<text transform="translate(1057.07,1860.60) scale(0.9333,0.9850)" font-size="36" stroke="#000" stroke-width="0.4" stroke-linejoin="round" xml:space="preserve"><tspan >2</tspan></text>
<text transform="translate(1101.50,1860.60) scale(0.8700,0.9850)" font-size="36" stroke="#000" stroke-width="0.4" stroke-linejoin="round" xml:space="preserve"><tspan >4</tspan></text>
<text transform="translate(1145.14,1860.60) scale(0.9611,0.9850)" font-size="36" stroke="#000" stroke-width="0.4" stroke-linejoin="round" xml:space="preserve"><tspan >6</tspan></text>
<text transform="translate(1178.76,1860.60) scale(0.9385,0.9850)" font-size="36" stroke="#000" stroke-width="0.4" stroke-linejoin="round" xml:space="preserve"><tspan >24</tspan></text>
<text transform="translate(392.10,933.90) scale(0.9496,0.9850)" font-size="36" stroke="#000" stroke-width="0.4" stroke-linejoin="round" xml:space="preserve"><tspan >Time  (h)</tspan></text>
<text transform="translate(1120.70,933.90) scale(0.9496,0.9850)" font-size="36" stroke="#000" stroke-width="0.4" stroke-linejoin="round" xml:space="preserve"><tspan >Time  (h)</tspan></text>
<text transform="translate(388.50,1901.30) scale(0.9638,0.9850)" font-size="36" stroke="#000" stroke-width="0.4" stroke-linejoin="round" xml:space="preserve"><tspan >Time  (h)</tspan></text>
<text transform="translate(1107.30,1895.70) scale(0.9723,0.9850)" font-size="36" stroke="#000" stroke-width="0.4" stroke-linejoin="round" xml:space="preserve"><tspan >Time  (h)</tspan></text>
<text transform="translate(125.65,969.00) scale(0.9493,0.9850)" font-size="36" stroke="#000" stroke-width="0.4" stroke-linejoin="round" xml:space="preserve"><tspan >GTN</tspan></text>
<text transform="translate(845.65,969.00) scale(0.9521,0.9850)" font-size="36" stroke="#000" stroke-width="0.4" stroke-linejoin="round" xml:space="preserve"><tspan >GTN</tspan></text>
<text transform="translate(125.65,1930.80) scale(0.9521,0.9850)" font-size="36" stroke="#000" stroke-width="0.4" stroke-linejoin="round" xml:space="preserve"><tspan >GTN</tspan></text>
<text transform="translate(846.45,1930.80) scale(0.9521,0.9850)" font-size="36" stroke="#000" stroke-width="0.4" stroke-linejoin="round" xml:space="preserve"><tspan >GTN</tspan></text>
<text transform="translate(338.53,973.80) scale(0.9668,0.9850)" font-size="36" stroke="#000" stroke-width="0.4" stroke-linejoin="round" xml:space="preserve"><tspan >Olcegepant</tspan></text>
<text transform="translate(1056.04,973.80) scale(0.9630,0.9850)" font-size="36" stroke="#000" stroke-width="0.4" stroke-linejoin="round" xml:space="preserve"><tspan >Olcegepant</tspan></text>
<text transform="translate(330.74,1934.70) scale(0.9587,0.9850)" font-size="36" stroke="#000" stroke-width="0.4" stroke-linejoin="round" xml:space="preserve"><tspan >Olcegepant</tspan></text>
<text transform="translate(1056.04,1934.70) scale(0.9582,0.9850)" font-size="36" stroke="#000" stroke-width="0.4" stroke-linejoin="round" xml:space="preserve"><tspan >Olcegepant</tspan></text>
</svg>
</body></html>
